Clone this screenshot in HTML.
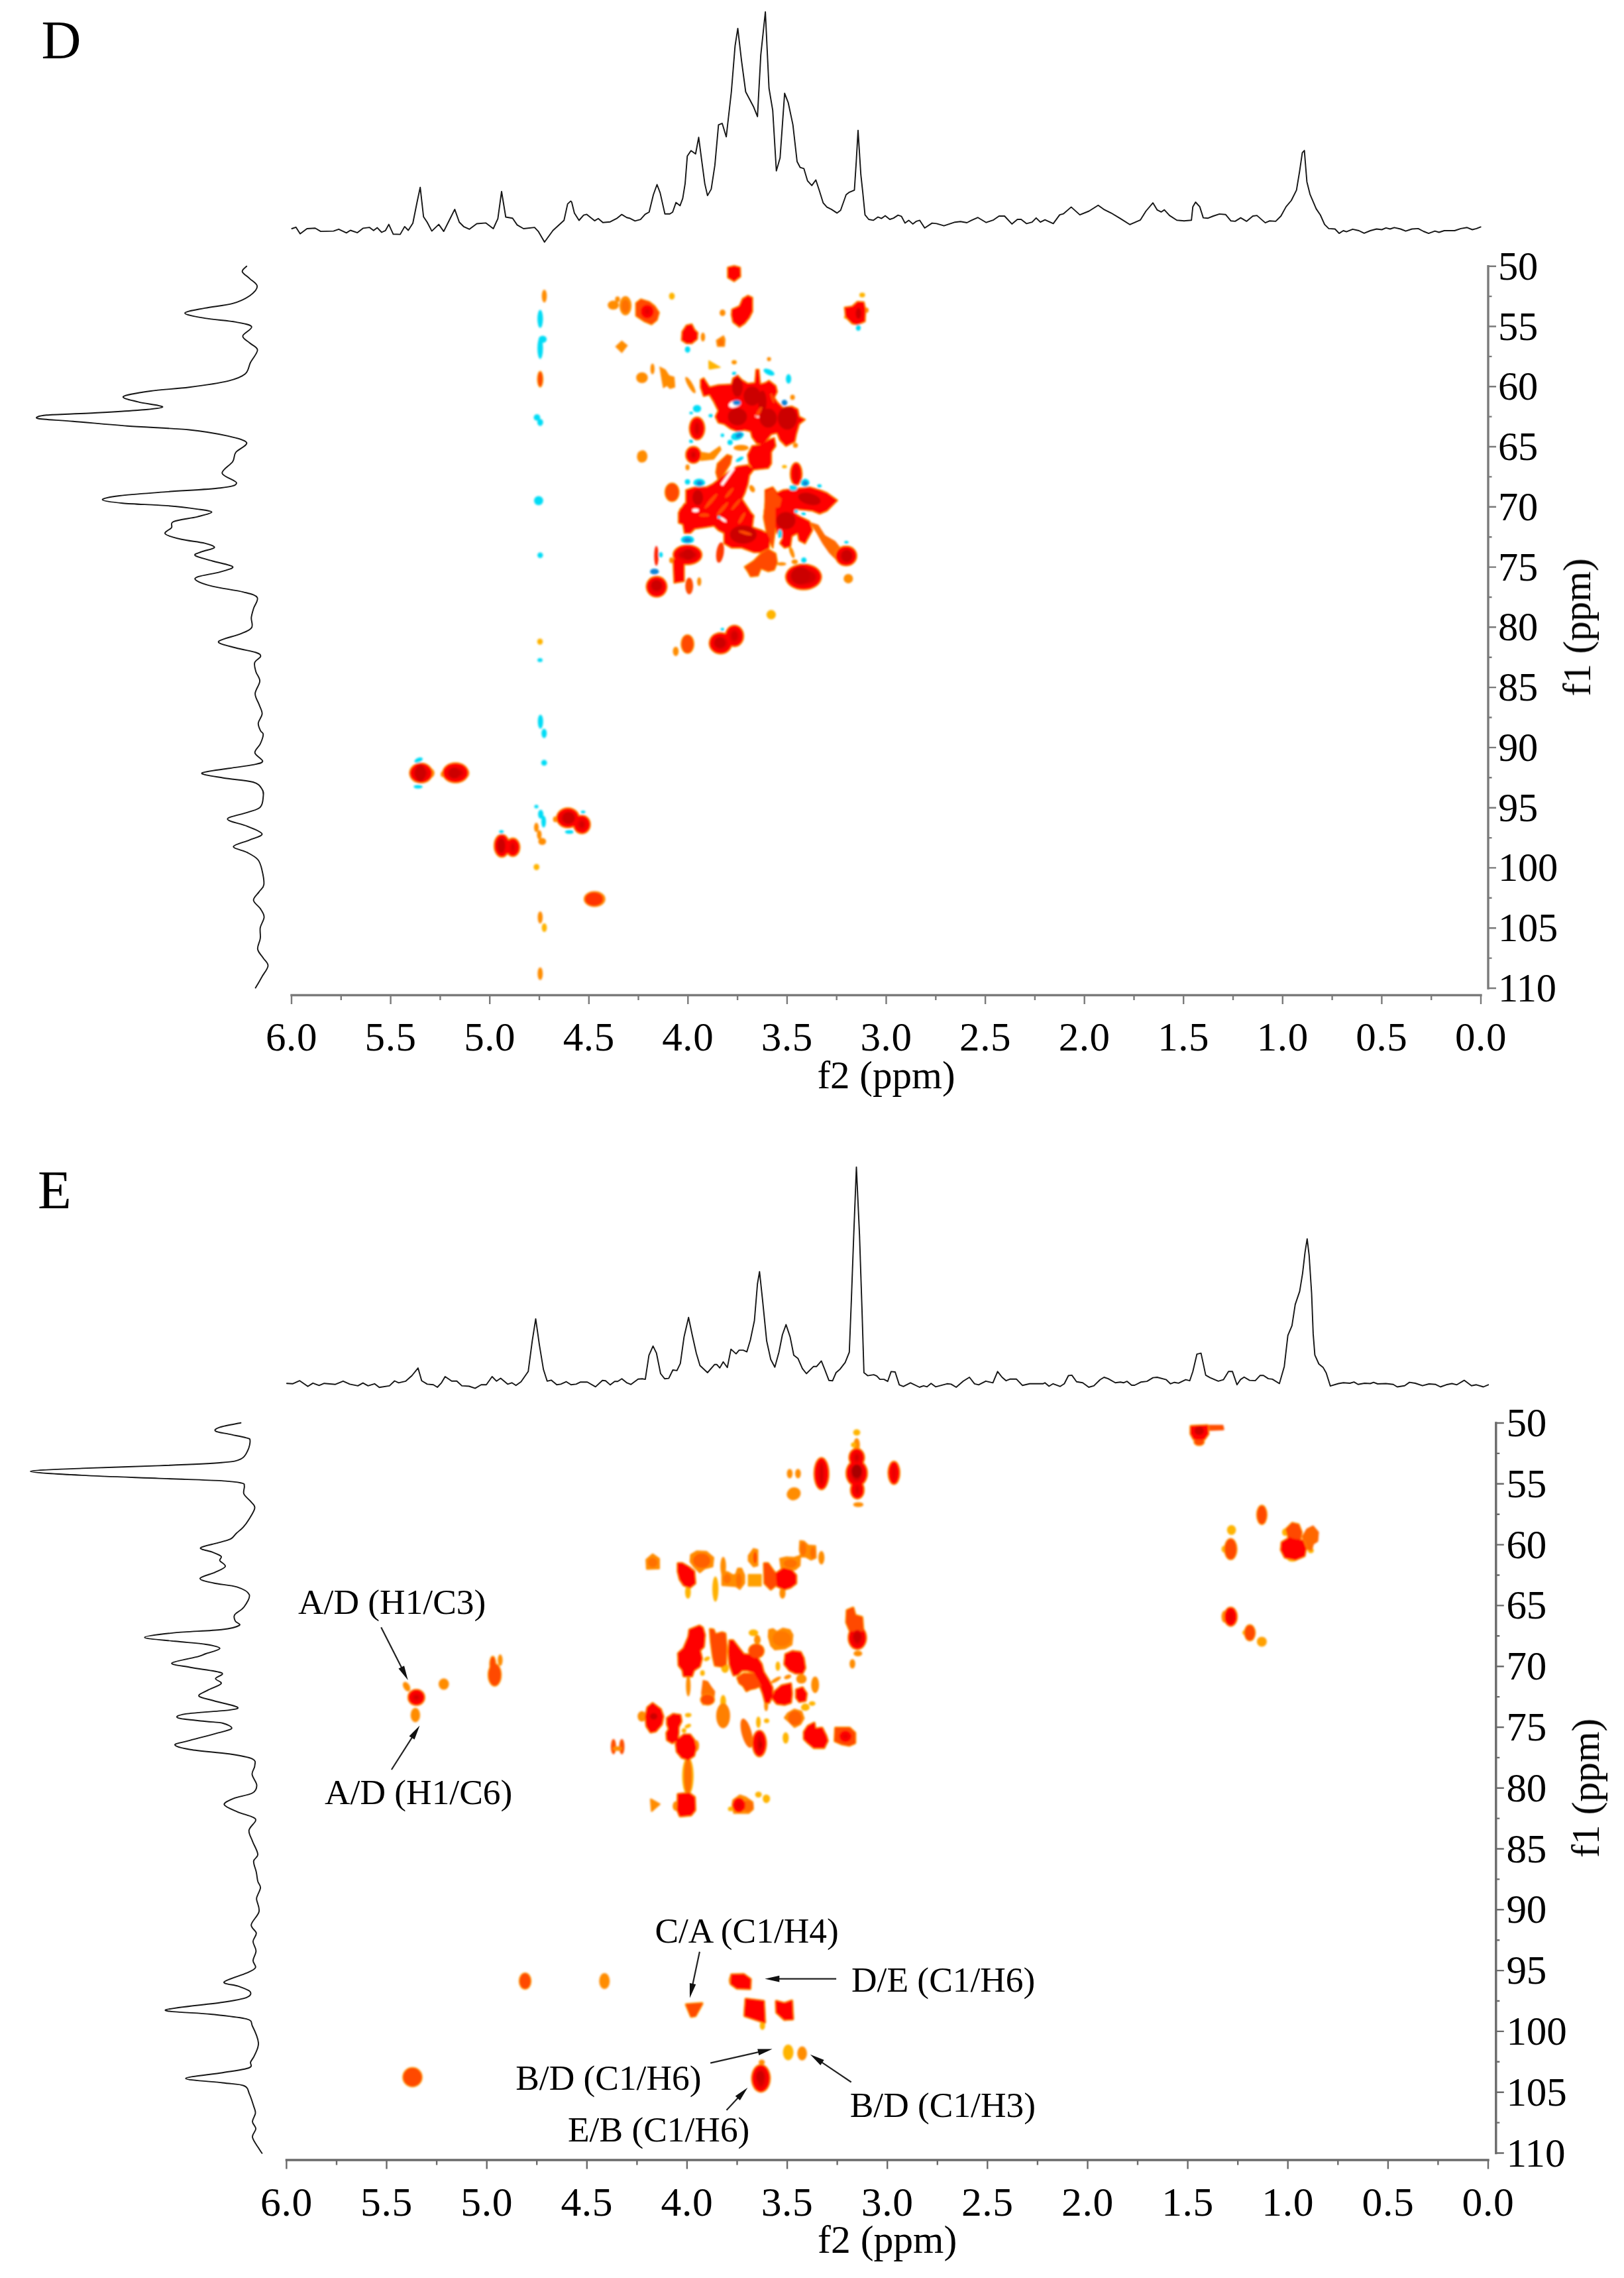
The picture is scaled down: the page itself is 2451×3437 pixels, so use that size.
<!DOCTYPE html>
<html lang="en"><head><meta charset="utf-8"><title>HSQC / HMBC spectra D and E</title>
<style>html,body{margin:0;padding:0;background:#fff}svg{display:block}text{font-family:"Liberation Serif", serif;fill:#000}</style></head><body>
<svg width="2451" height="3437" viewBox="0 0 2451 3437">
<defs><filter id="bl" x="-5%" y="-5%" width="110%" height="110%"><feGaussianBlur stdDeviation="1.6"/></filter><filter id="btr" x="-5%" y="-5%" width="110%" height="110%"><feGaussianBlur stdDeviation="0.65"/></filter><filter id="bth" x="-1%" y="-100%" width="102%" height="300%"><feGaussianBlur stdDeviation="0.7"/></filter><filter id="btv" x="-100%" y="-1%" width="300%" height="102%"><feGaussianBlur stdDeviation="0.7"/></filter></defs>
<rect width="2451" height="3437" fill="#fff"/>
<text x="62.5" y="88.3" font-size="83" text-anchor="start" >D</text>
<text x="57" y="1822.8" font-size="83" text-anchor="start" >E</text>
<g filter="url(#bl)">
<polygon points="1098.5,403.6 1108.1,401.2 1116.9,403.6 1117.4,417.2 1108.1,424.4 1098.5,418.8" fill="#ffa400" stroke="#ffa400" stroke-width="3" stroke-linejoin="round"/>
<polygon points="1104.9,466.8 1116.1,462 1120.9,450.8 1128.9,446 1135.4,449.2 1135.4,470.1 1130.5,479.7 1124.1,487.7 1116.1,493.3 1106.5,486.1 1104.1,474.9" fill="#ffa400" stroke="#ffa400" stroke-width="3" stroke-linejoin="round"/>
<polygon points="1029.7,500.5 1036.1,490.9 1044.1,489.3 1048.1,497.3 1052.9,502.1 1052.1,511.7 1044.1,518.1 1036.1,518.1 1028.9,513.3" fill="#ffa400" stroke="#ffa400" stroke-width="3" stroke-linejoin="round"/>
<ellipse cx="1060.9" cy="508.5" rx="3.3" ry="6.8" fill="#ff8c00"/>
<polygon points="1080.9,513.3 1092.1,506.1 1094.5,511.7 1093.7,522.9 1082.5,522.9" fill="#ff8c00" stroke="#ff8c00" stroke-width="0.8" stroke-linejoin="round"/>
<ellipse cx="1088.1" cy="516.5" rx="4.4" ry="5.2" fill="#ff7000"/>
<ellipse cx="1014" cy="446.8" rx="4.4" ry="5.2" fill="#ffb400"/>
<ellipse cx="1090.5" cy="472" rx="4.4" ry="4.9" fill="#ff8c00"/>
<ellipse cx="925.6" cy="460.4" rx="8.4" ry="6.8" fill="#ff8c00"/>
<ellipse cx="932" cy="451.6" rx="3.6" ry="4.4" fill="#ff8c00"/>
<ellipse cx="944" cy="461.2" rx="9.2" ry="14.5" fill="#ff8c00"/>
<ellipse cx="944" cy="462" rx="6" ry="10" fill="#ff7000"/>
<polygon points="960,457.2 967.2,451.6 980.1,455.6 988.1,462 994.5,471.7 991.3,482.9 983.3,489.3 972,484.5 960,476.5" fill="#ffa400" stroke="#ffa400" stroke-width="3" stroke-linejoin="round"/>
<ellipse cx="976.8" cy="470.1" rx="11.1" ry="11.4" fill="#ffa400"/>
<polygon points="928.8,522.9 938.4,514.1 947.2,521.3 938.4,532.5" fill="#ff8c00" stroke="#ff8c00" stroke-width="0.8" stroke-linejoin="round"/>
<polygon points="1069.7,543.7 1087.3,554.1 1069.7,556.5" fill="#ffb400" stroke="#ffb400" stroke-width="0.8" stroke-linejoin="round"/>
<ellipse cx="1108.1" cy="546.6" rx="3.9" ry="3.3" fill="#ffb400"/>
<ellipse cx="1307.7" cy="468" rx="3.3" ry="3.9" fill="#ff8c00"/>
<ellipse cx="1276.5" cy="478.5" rx="2.8" ry="2.8" fill="#ffb400"/>
<polygon points="1274.9,464 1286.1,462.4 1294.1,455.2 1303.7,456 1306.1,467.2 1305.3,484.9 1294.1,489.7 1286.1,488.1 1276.5,478.5" fill="#ffa400" stroke="#ffa400" stroke-width="3" stroke-linejoin="round"/>
<ellipse cx="1301.3" cy="445.1" rx="4.4" ry="3.6" fill="#ffb400"/>
<ellipse cx="821.5" cy="446.7" rx="3.8" ry="9.7" fill="#ff8c00"/>
<ellipse cx="815.3" cy="572.1" rx="4.9" ry="12.6" fill="#ffa400"/>
<ellipse cx="967.8" cy="688.9" rx="6.5" ry="9" fill="#ff8c00"/>
<ellipse cx="815" cy="968.1" rx="4.3" ry="4.7" fill="#ffb400"/>
<ellipse cx="649.9" cy="1166.4" rx="5.9" ry="7.1" fill="#ff8c00"/>
<ellipse cx="635.4" cy="1166.4" rx="18.1" ry="15.9" fill="#ffa400"/>
<ellipse cx="668.7" cy="1168.2" rx="3.7" ry="4.4" fill="#ff8c00"/>
<ellipse cx="703.1" cy="1166.4" rx="5.3" ry="7.1" fill="#ff8c00"/>
<ellipse cx="687.5" cy="1166" rx="20.3" ry="15.9" fill="#ffa400"/>
<ellipse cx="809.5" cy="1248.4" rx="3.5" ry="7.1" fill="#ff8c00"/>
<ellipse cx="813.9" cy="1259.5" rx="3.5" ry="7.1" fill="#ff8c00"/>
<ellipse cx="818.3" cy="1269.5" rx="5.9" ry="5.3" fill="#ff8c00"/>
<ellipse cx="838.3" cy="1236.2" rx="3.7" ry="4.4" fill="#ff8c00"/>
<ellipse cx="857.1" cy="1234" rx="18.1" ry="15.9" fill="#ffa400"/>
<ellipse cx="878.2" cy="1244" rx="13.7" ry="14.8" fill="#ffa400"/>
<ellipse cx="757.4" cy="1276.1" rx="12.6" ry="18.1" fill="#ffa400"/>
<ellipse cx="774" cy="1278.4" rx="11.5" ry="14.8" fill="#ffa400"/>
<ellipse cx="809.7" cy="1308.2" rx="4.4" ry="4.8" fill="#ffb400"/>
<ellipse cx="897.3" cy="1356.5" rx="16.4" ry="11.9" fill="#ff8c00"/>
<ellipse cx="896.6" cy="1356.5" rx="13.7" ry="10.2" fill="#ff3000"/>
<ellipse cx="815.3" cy="1384.2" rx="3.7" ry="9.3" fill="#ff8c00"/>
<ellipse cx="821.5" cy="1399.7" rx="3.9" ry="6.6" fill="#ffb400"/>
<ellipse cx="815.3" cy="1469.1" rx="3.9" ry="9.7" fill="#ff8c00"/>
<ellipse cx="968.9" cy="569.9" rx="8.8" ry="8.2" fill="#ff8c00"/>
<ellipse cx="984.8" cy="556.6" rx="3.1" ry="8.2" fill="#ff8c00"/>
<polygon points="995.5,553.3 1004.3,557.7 1009.9,566.6 1017.6,568.8 1018.7,584.3 1011,586.6 1006.6,582.1 1001,585.4 998.8,573.3" fill="#ff8c00" stroke="#ff8c00" stroke-width="0.8" stroke-linejoin="round"/>
<ellipse cx="1042" cy="581" rx="3.7" ry="14.1" transform="rotate(-30 1042 581)" fill="#ff8c00"/>
<polygon points="1069.7,545.5 1087.5,554.4 1070.8,557.3" fill="#ffb400" stroke="#ffb400" stroke-width="0.8" stroke-linejoin="round"/>
<ellipse cx="1107.9" cy="546.7" rx="3.5" ry="2.6" fill="#ff8c00"/>
<ellipse cx="1160.6" cy="541.8" rx="3.1" ry="3.1" fill="#ff8c00"/>
<ellipse cx="1196.1" cy="599.4" rx="3.5" ry="3.9" fill="#ff8c00"/>
<ellipse cx="1200.5" cy="671.9" rx="3.7" ry="3.7" fill="#ff8c00"/>
<ellipse cx="970" cy="688.5" rx="7.1" ry="9.3" fill="#ff8c00"/>
<ellipse cx="1183.9" cy="704" rx="3.7" ry="2.6" fill="#ffb400"/>
<ellipse cx="1037.6" cy="705.2" rx="3.1" ry="4.4" fill="#ff8c00"/>
<polygon points="1057.5,681.9 1070.8,684.1 1086.4,673 1088.6,678.6 1077.5,693 1057.5,695.2" fill="#ff8c00" stroke="#ff8c00" stroke-width="0.8" stroke-linejoin="round"/>
<ellipse cx="1118.5" cy="675.7" rx="11.5" ry="4.4" fill="#ff8c00"/>
<ellipse cx="1135.1" cy="737.3" rx="3.7" ry="5.9" transform="rotate(-30 1135.1 737.3)" fill="#ff8c00"/>
<polygon points="1057.5,573.3 1062,570.6 1070.8,584.3 1084.1,581 1104.1,579.9 1106.3,571 1113,566.2 1119.6,573.3 1128.5,578.8 1139.6,577.7 1141.3,557.7 1145.1,557.7 1147.3,579.9 1155.1,577.7 1160.6,574.4 1170.6,582.1 1172.8,591 1168.4,599.9 1172.8,606.5 1181.7,615.4 1195,613.2 1203.8,617.6 1206.1,628.7 1214.9,633.1 1206.1,639.8 1201.6,655.3 1199.4,666.4 1186.1,673 1177.2,664.1 1172.8,653.1 1163.9,655.3 1155.1,666.4 1150.6,670.8 1141.8,668.6 1135.1,659.7 1132.9,650.8 1124,648.6 1113,650.8 1101.9,646.4 1093,639.8 1084.1,637.5 1079.7,628.7 1084.1,619.8 1077.5,606.5 1070.8,595.4 1062,597.6 1057.5,584.3" fill="#ffa400" stroke="#ffa400" stroke-width="3" stroke-linejoin="round"/>
<ellipse cx="1142.2" cy="628" rx="5.7" ry="3.5" transform="rotate(20 1142.2 628)" fill="#ff8c00"/>
<ellipse cx="1166.2" cy="608.7" rx="4.8" ry="4.8" fill="#ff8c00"/>
<polygon points="1083,628.7 1093,639.8 1084.1,638.6" fill="#ff8c00" stroke="#ff8c00" stroke-width="0.8" stroke-linejoin="round"/>
<polygon points="1135.1,673 1150.6,670.8 1159.5,664.1 1168.4,660.8 1170.6,673 1163.9,681.9 1163.9,699.6 1159.5,706.3 1137.3,708.5 1130.7,699.6 1128.5,686.3" fill="#ffa400" stroke="#ffa400" stroke-width="3" stroke-linejoin="round"/>
<polygon points="1113,704 1128.5,701.8 1137.3,708.5 1130.7,717.3 1128.5,730.6 1124,743.9 1119.6,752.8 1128.5,766.1 1137.3,780.1 1024.3,780.1 1026.5,768.3 1035.4,761.7 1035.4,739.5 1048.7,735.1 1066.4,735.1 1075.3,730.6 1084.1,724 1093,717.3 1101.9,710.7" fill="#ffa400" stroke="#ffa400" stroke-width="3" stroke-linejoin="round"/>
<polygon points="1083,699.6 1097.4,686.3 1104.1,688.5 1101.9,699.6 1090.8,717.3 1084.1,724 1080.8,712.9" fill="#ffa400" stroke="#ffa400" stroke-width="3" stroke-linejoin="round"/>
<ellipse cx="1014.3" cy="742.8" rx="11.5" ry="14.8" fill="#ffa400"/>
<ellipse cx="1052" cy="646.4" rx="12.6" ry="18.1" fill="#ffa400"/>
<ellipse cx="1046.5" cy="686.3" rx="12.6" ry="13.7" fill="#ffa400"/>
<ellipse cx="1201.6" cy="715.1" rx="9.9" ry="18.1" fill="#ffa400"/>
<polygon points="1155.1,739.5 1166.2,735.1 1172.8,743.9 1181.7,739.5 1203.8,737.3 1221.6,735.1 1237.1,739.5 1248.2,743.9 1263.7,755 1248.2,770.5 1237.1,775 1226,770.5 1203.8,768.3 1192.8,780.1 1152.9,780.1 1155.1,761.7" fill="#ffa400" stroke="#ffa400" stroke-width="3" stroke-linejoin="round"/>
<polygon points="1156.2,741.7 1166.2,736.2 1172.8,746.2 1179.5,752.8 1172.8,780.1 1154,780.1 1155.1,761.7" fill="#ffa400" stroke="#ffa400" stroke-width="3" stroke-linejoin="round"/>
<polygon points="1155.1,760 1170.6,760 1170.6,793.3 1166.2,826.5 1157.3,804.3 1152.9,782.2" fill="#ffa400" stroke="#ffa400" stroke-width="3" stroke-linejoin="round"/>
<polygon points="1221.6,787.7 1234.9,792.1 1244.9,807.7 1260.4,816.5 1269.2,827.6 1263.7,846.5 1251.5,834.3 1241.5,819.9 1232.7,804.3" fill="#ff6a00" stroke="#ff6a00" stroke-width="0.8" stroke-linejoin="round"/>
<ellipse cx="1280.3" cy="873.1" rx="7.1" ry="7.1" fill="#ff8c00"/>
<ellipse cx="1195" cy="833.2" rx="3.1" ry="9.3" transform="rotate(-20 1195 833.2)" fill="#ff8c00"/>
<ellipse cx="1199.4" cy="847.6" rx="4.8" ry="3.7" fill="#ff8c00"/>
<ellipse cx="1179.5" cy="850.9" rx="7.1" ry="2.6" fill="#ff8c00"/>
<ellipse cx="1013.2" cy="845.3" rx="3.1" ry="4.4" fill="#ff8c00"/>
<ellipse cx="1055.3" cy="877.5" rx="3.1" ry="6.6" fill="#ff8c00"/>
<ellipse cx="1163.9" cy="927.4" rx="7.1" ry="7.1" fill="#ffb400"/>
<ellipse cx="1019.9" cy="982.8" rx="4.4" ry="7.1" fill="#ff8c00"/>
<polygon points="1033.2,760 1024.3,773.3 1024.3,788.8 1030.9,791 1033.2,804.3 1042,804.3 1048.7,797.7 1064.2,795.5 1077.5,793.3 1084.1,799.9 1093,804.3 1093,819.9 1104.1,826.5 1119.6,826.5 1137.3,833.2 1148.4,833.2 1160.6,826.5 1161.7,813.2 1157.3,804.3 1148.4,799.9 1135.1,795.5 1137.3,777.7 1128.5,768.9 1124,760" fill="#ffa400" stroke="#ffa400" stroke-width="3" stroke-linejoin="round"/>
<polygon points="1170.6,766.7 1181.7,764.4 1195,768.9 1203.8,777.7 1221.6,786.6 1226,799.9 1214.9,819.9 1206.1,815.4 1203.8,804.3 1195,808.8 1192.8,824.3 1183.9,826.5 1177.2,819.9 1181.7,811 1172.8,804.3 1170.6,793.3" fill="#ffa400" stroke="#ffa400" stroke-width="3" stroke-linejoin="round"/>
<ellipse cx="1277" cy="838.7" rx="17" ry="15.9" fill="#ffa400"/>
<ellipse cx="1212.7" cy="870.4" rx="28.1" ry="20.3" fill="#ffa400"/>
<polygon points="1124,855.3 1137.3,846.5 1148.4,835.4 1159.5,828.7 1170.6,835.4 1172.8,848.7 1168.4,859.8 1159.5,862 1148.4,857.5 1144,868.6 1132.9,869.7 1128.5,862" fill="#ffa400" stroke="#ffa400" stroke-width="3" stroke-linejoin="round"/>
<ellipse cx="1086.8" cy="833.6" rx="5.7" ry="15.5" transform="rotate(8 1086.8 833.6)" fill="#ff3800"/>
<ellipse cx="1037.6" cy="837.1" rx="22.8" ry="15.9" fill="#ffa400"/>
<polygon points="1016.1,844.2 1032.3,844.2 1032.3,877 1017.6,879.3" fill="#ffa400" stroke="#ffa400" stroke-width="3" stroke-linejoin="round"/>
<ellipse cx="990.6" cy="838.7" rx="3.3" ry="15" fill="#ff2000"/>
<ellipse cx="991" cy="885.2" rx="16.6" ry="16.6" fill="#ffa400"/>
<ellipse cx="1040.2" cy="884.1" rx="5.9" ry="12.6" fill="#ff4800"/>
<ellipse cx="1087.5" cy="970.6" rx="18.1" ry="17" fill="#ffa400"/>
<ellipse cx="1108.5" cy="959.5" rx="14.8" ry="17" fill="#ffa400"/>
<ellipse cx="1037.6" cy="971.7" rx="10.4" ry="14.8" fill="#ffa400"/>
<polygon points="1098.5,403.6 1108.1,401.2 1116.9,403.6 1117.4,417.2 1108.1,424.4 1098.5,418.8" fill="#ff0000" stroke="#ff0000" stroke-width="0.8" stroke-linejoin="round"/>
<polygon points="1104.9,466.8 1116.1,462 1120.9,450.8 1128.9,446 1135.4,449.2 1135.4,470.1 1130.5,479.7 1124.1,487.7 1116.1,493.3 1106.5,486.1 1104.1,474.9" fill="#ff0000" stroke="#ff0000" stroke-width="0.8" stroke-linejoin="round"/>
<polygon points="1029.7,500.5 1036.1,490.9 1044.1,489.3 1048.1,497.3 1052.9,502.1 1052.1,511.7 1044.1,518.1 1036.1,518.1 1028.9,513.3" fill="#ff0000" stroke="#ff0000" stroke-width="0.8" stroke-linejoin="round"/>
<polygon points="960,457.2 967.2,451.6 980.1,455.6 988.1,462 994.5,471.7 991.3,482.9 983.3,489.3 972,484.5 960,476.5" fill="#ff4800" stroke="#ff4800" stroke-width="0.8" stroke-linejoin="round"/>
<ellipse cx="976.8" cy="470.1" rx="10" ry="10.3" fill="#ff0000"/>
<polygon points="1274.9,464 1286.1,462.4 1294.1,455.2 1303.7,456 1306.1,467.2 1305.3,484.9 1294.1,489.7 1286.1,488.1 1276.5,478.5" fill="#ff0000" stroke="#ff0000" stroke-width="0.8" stroke-linejoin="round"/>
<ellipse cx="815.3" cy="572.1" rx="3.8" ry="11.5" fill="#ff4800"/>
<ellipse cx="635.4" cy="1166.4" rx="17" ry="14.8" fill="#ff0000"/>
<ellipse cx="687.5" cy="1166" rx="19.2" ry="14.8" fill="#ff0000"/>
<ellipse cx="857.1" cy="1234" rx="17" ry="14.8" fill="#ff0000"/>
<ellipse cx="878.2" cy="1244" rx="12.6" ry="13.7" fill="#ff0000"/>
<ellipse cx="757.4" cy="1276.1" rx="11.5" ry="17" fill="#ff0000"/>
<ellipse cx="774" cy="1278.4" rx="10.4" ry="13.7" fill="#ff0000"/>
<polygon points="1057.5,573.3 1062,570.6 1070.8,584.3 1084.1,581 1104.1,579.9 1106.3,571 1113,566.2 1119.6,573.3 1128.5,578.8 1139.6,577.7 1141.3,557.7 1145.1,557.7 1147.3,579.9 1155.1,577.7 1160.6,574.4 1170.6,582.1 1172.8,591 1168.4,599.9 1172.8,606.5 1181.7,615.4 1195,613.2 1203.8,617.6 1206.1,628.7 1214.9,633.1 1206.1,639.8 1201.6,655.3 1199.4,666.4 1186.1,673 1177.2,664.1 1172.8,653.1 1163.9,655.3 1155.1,666.4 1150.6,670.8 1141.8,668.6 1135.1,659.7 1132.9,650.8 1124,648.6 1113,650.8 1101.9,646.4 1093,639.8 1084.1,637.5 1079.7,628.7 1084.1,619.8 1077.5,606.5 1070.8,595.4 1062,597.6 1057.5,584.3" fill="#ff0000" stroke="#ff0000" stroke-width="0.8" stroke-linejoin="round"/>
<polygon points="1135.1,673 1150.6,670.8 1159.5,664.1 1168.4,660.8 1170.6,673 1163.9,681.9 1163.9,699.6 1159.5,706.3 1137.3,708.5 1130.7,699.6 1128.5,686.3" fill="#ff0000" stroke="#ff0000" stroke-width="0.8" stroke-linejoin="round"/>
<polygon points="1113,704 1128.5,701.8 1137.3,708.5 1130.7,717.3 1128.5,730.6 1124,743.9 1119.6,752.8 1128.5,766.1 1137.3,780.1 1024.3,780.1 1026.5,768.3 1035.4,761.7 1035.4,739.5 1048.7,735.1 1066.4,735.1 1075.3,730.6 1084.1,724 1093,717.3 1101.9,710.7" fill="#ff0000" stroke="#ff0000" stroke-width="0.8" stroke-linejoin="round"/>
<polygon points="1083,699.6 1097.4,686.3 1104.1,688.5 1101.9,699.6 1090.8,717.3 1084.1,724 1080.8,712.9" fill="#ff4800" stroke="#ff4800" stroke-width="0.8" stroke-linejoin="round"/>
<ellipse cx="1014.3" cy="742.8" rx="10.4" ry="13.7" fill="#ff4800"/>
<ellipse cx="1052" cy="646.4" rx="11.5" ry="17" fill="#ff0000"/>
<ellipse cx="1046.5" cy="686.3" rx="11.5" ry="12.6" fill="#ff0000"/>
<ellipse cx="1201.6" cy="715.1" rx="8.8" ry="17" fill="#ff0000"/>
<polygon points="1155.1,739.5 1166.2,735.1 1172.8,743.9 1181.7,739.5 1203.8,737.3 1221.6,735.1 1237.1,739.5 1248.2,743.9 1263.7,755 1248.2,770.5 1237.1,775 1226,770.5 1203.8,768.3 1192.8,780.1 1152.9,780.1 1155.1,761.7" fill="#ff0000" stroke="#ff0000" stroke-width="0.8" stroke-linejoin="round"/>
<polygon points="1156.2,741.7 1166.2,736.2 1172.8,746.2 1179.5,752.8 1172.8,780.1 1154,780.1 1155.1,761.7" fill="#ff4800" stroke="#ff4800" stroke-width="0.8" stroke-linejoin="round"/>
<polygon points="1155.1,760 1170.6,760 1170.6,793.3 1166.2,826.5 1157.3,804.3 1152.9,782.2" fill="#ff4800" stroke="#ff4800" stroke-width="0.8" stroke-linejoin="round"/>
<polygon points="1033.2,760 1024.3,773.3 1024.3,788.8 1030.9,791 1033.2,804.3 1042,804.3 1048.7,797.7 1064.2,795.5 1077.5,793.3 1084.1,799.9 1093,804.3 1093,819.9 1104.1,826.5 1119.6,826.5 1137.3,833.2 1148.4,833.2 1160.6,826.5 1161.7,813.2 1157.3,804.3 1148.4,799.9 1135.1,795.5 1137.3,777.7 1128.5,768.9 1124,760" fill="#ff0000" stroke="#ff0000" stroke-width="0.8" stroke-linejoin="round"/>
<polygon points="1170.6,766.7 1181.7,764.4 1195,768.9 1203.8,777.7 1221.6,786.6 1226,799.9 1214.9,819.9 1206.1,815.4 1203.8,804.3 1195,808.8 1192.8,824.3 1183.9,826.5 1177.2,819.9 1181.7,811 1172.8,804.3 1170.6,793.3" fill="#ff0000" stroke="#ff0000" stroke-width="0.8" stroke-linejoin="round"/>
<ellipse cx="1277" cy="838.7" rx="15.9" ry="14.8" fill="#ff0000"/>
<ellipse cx="1212.7" cy="870.4" rx="27" ry="19.2" fill="#ff0000"/>
<polygon points="1124,855.3 1137.3,846.5 1148.4,835.4 1159.5,828.7 1170.6,835.4 1172.8,848.7 1168.4,859.8 1159.5,862 1148.4,857.5 1144,868.6 1132.9,869.7 1128.5,862" fill="#ff4800" stroke="#ff4800" stroke-width="0.8" stroke-linejoin="round"/>
<ellipse cx="1037.6" cy="837.1" rx="21.7" ry="14.8" fill="#ff0000"/>
<polygon points="1016.1,844.2 1032.3,844.2 1032.3,877 1017.6,879.3" fill="#ff0000" stroke="#ff0000" stroke-width="0.8" stroke-linejoin="round"/>
<ellipse cx="991" cy="885.2" rx="15.5" ry="15.5" fill="#ff0000"/>
<ellipse cx="1087.5" cy="970.6" rx="17" ry="15.9" fill="#ff0000"/>
<ellipse cx="1108.5" cy="959.5" rx="13.7" ry="15.9" fill="#ff0000"/>
<ellipse cx="1037.6" cy="971.7" rx="9.3" ry="13.7" fill="#ff4800"/>
<ellipse cx="976.8" cy="470.1" rx="4.5" ry="4.8" fill="#ec0000"/>
<ellipse cx="635.4" cy="1166.4" rx="11.5" ry="9.3" fill="#ec0000"/>
<ellipse cx="687.5" cy="1166" rx="13.7" ry="9.3" fill="#ec0000"/>
<ellipse cx="857.1" cy="1234" rx="11.5" ry="9.3" fill="#ec0000"/>
<ellipse cx="878.2" cy="1244" rx="7.1" ry="8.2" fill="#ec0000"/>
<ellipse cx="757.4" cy="1276.1" rx="6" ry="11.5" fill="#ec0000"/>
<ellipse cx="774" cy="1278.4" rx="4.9" ry="8.2" fill="#ec0000"/>
<ellipse cx="1052" cy="646.4" rx="6" ry="11.5" fill="#ec0000"/>
<ellipse cx="1046.5" cy="686.3" rx="6" ry="7.1" fill="#ec0000"/>
<ellipse cx="1201.6" cy="715.1" rx="3.3" ry="11.5" fill="#ec0000"/>
<ellipse cx="1277" cy="838.7" rx="10.4" ry="9.3" fill="#ec0000"/>
<ellipse cx="1212.7" cy="870.4" rx="21.5" ry="13.7" fill="#ec0000"/>
<ellipse cx="1037.6" cy="837.1" rx="16.2" ry="9.3" fill="#ec0000"/>
<ellipse cx="991" cy="885.2" rx="10" ry="10" fill="#ec0000"/>
<ellipse cx="1087.5" cy="970.6" rx="11.5" ry="10.4" fill="#ec0000"/>
<ellipse cx="1108.5" cy="959.5" rx="8.2" ry="10.4" fill="#ec0000"/>
<ellipse cx="976.8" cy="470.1" rx="1" ry="1.3" fill="#d40000"/>
<ellipse cx="635.4" cy="1166.4" rx="8" ry="5.8" fill="#d40000"/>
<ellipse cx="687.5" cy="1166" rx="10.2" ry="5.8" fill="#d40000"/>
<ellipse cx="857.1" cy="1234" rx="8" ry="5.8" fill="#d40000"/>
<ellipse cx="878.2" cy="1244" rx="3.6" ry="4.7" fill="#d40000"/>
<ellipse cx="757.4" cy="1276.1" rx="2.5" ry="8" fill="#d40000"/>
<ellipse cx="774" cy="1278.4" rx="1.4" ry="4.7" fill="#d40000"/>
<ellipse cx="1052" cy="646.4" rx="2.5" ry="8" fill="#d40000"/>
<ellipse cx="1046.5" cy="686.3" rx="2.5" ry="3.6" fill="#d40000"/>
<ellipse cx="1277" cy="838.7" rx="6.9" ry="5.8" fill="#d40000"/>
<ellipse cx="1212.7" cy="870.4" rx="18" ry="10.2" fill="#d40000"/>
<ellipse cx="1037.6" cy="837.1" rx="12.7" ry="5.8" fill="#d40000"/>
<ellipse cx="991" cy="885.2" rx="6.5" ry="6.5" fill="#d40000"/>
<ellipse cx="1087.5" cy="970.6" rx="8" ry="6.9" fill="#d40000"/>
<ellipse cx="1108.5" cy="959.5" rx="4.7" ry="6.9" fill="#d40000"/>
<ellipse cx="1037.7" cy="527.4" rx="4" ry="4.8" fill="#00dcf5"/>
<ellipse cx="1108.1" cy="563.7" rx="3.2" ry="2.4" fill="#00dcf5"/>
<ellipse cx="1295.7" cy="472.8" rx="4.2" ry="8.3" fill="#cc0000"/>
<ellipse cx="1295.4" cy="494.5" rx="3.5" ry="4.5" fill="#00dcf5"/>
<ellipse cx="815.3" cy="481.1" rx="4.2" ry="13.5" fill="#00dcf5"/>
<ellipse cx="815.3" cy="525.4" rx="4.2" ry="16" fill="#00dcf5"/>
<ellipse cx="819" cy="511.9" rx="6.1" ry="5.4" fill="#00dcf5"/>
<ellipse cx="810.4" cy="629.9" rx="4.9" ry="4.9" fill="#00dcf5"/>
<ellipse cx="815.3" cy="637.3" rx="4.4" ry="5.4" fill="#00dcf5"/>
<ellipse cx="812.9" cy="755.3" rx="6.9" ry="6.9" fill="#00dcf5"/>
<ellipse cx="815.3" cy="837.7" rx="4.2" ry="4.2" fill="#00dcf5"/>
<ellipse cx="815" cy="995.9" rx="3.9" ry="2.9" fill="#00dcf5"/>
<ellipse cx="815.7" cy="1088.8" rx="4" ry="10.6" fill="#00dcf5"/>
<ellipse cx="821.2" cy="1106.6" rx="4" ry="7.1" fill="#00dcf5"/>
<ellipse cx="821.2" cy="1150.9" rx="4.4" ry="4.4" fill="#00dcf5"/>
<ellipse cx="634.3" cy="1166.4" rx="8.1" ry="12.1" fill="#cc0000"/>
<ellipse cx="631.7" cy="1146.9" rx="6.7" ry="3.5" transform="rotate(-25 631.7 1146.9)" fill="#00dcf5"/>
<ellipse cx="631" cy="1187" rx="6.7" ry="2.7" fill="#00dcf5"/>
<ellipse cx="685.3" cy="1166.4" rx="8.1" ry="8.1" fill="#cc0000"/>
<ellipse cx="809.5" cy="1216.9" rx="3.1" ry="2.7" fill="#00dcf5"/>
<ellipse cx="816.1" cy="1228.5" rx="4" ry="6.7" fill="#00dcf5"/>
<ellipse cx="820.5" cy="1239.6" rx="3.5" ry="8.9" fill="#00dcf5"/>
<ellipse cx="858.2" cy="1234" rx="9.2" ry="9.2" fill="#cc0000"/>
<ellipse cx="880" cy="1225.2" rx="3.3" ry="2.2" fill="#00dcf5"/>
<ellipse cx="859.3" cy="1255.1" rx="6.7" ry="2.9" fill="#00dcf5"/>
<ellipse cx="756.3" cy="1276.1" rx="5.8" ry="11" fill="#cc0000"/>
<ellipse cx="756.7" cy="1255.1" rx="3.5" ry="2.7" fill="#00dcf5"/>
<ellipse cx="1113" cy="584.3" rx="8.1" ry="14.4" fill="#cc0000"/>
<ellipse cx="1135.1" cy="597.6" rx="13" ry="14.4" fill="#cc0000"/>
<ellipse cx="1150.6" cy="606.5" rx="6.3" ry="17.3" fill="#cc0000"/>
<ellipse cx="1113" cy="628.7" rx="14.4" ry="13" fill="#cc0000"/>
<ellipse cx="1159.5" cy="630.9" rx="13" ry="14.4" fill="#cc0000"/>
<ellipse cx="1188.3" cy="630.9" rx="14.4" ry="17.3" fill="#cc0000"/>
<ellipse cx="1109" cy="609.6" rx="9.3" ry="4.9" transform="rotate(-15 1109 609.6)" fill="#ffffff"/>
<ellipse cx="1111.9" cy="607.6" rx="6.2" ry="4" fill="#0a86d8"/>
<ellipse cx="1142.7" cy="628.2" rx="3.1" ry="1.6" transform="rotate(20 1142.7 628.2)" fill="#ffffff"/>
<ellipse cx="1183.9" cy="607.6" rx="4.4" ry="4.4" fill="#0a86d8"/>
<polygon points="1105.2,705.2 1109,707.4 1090.8,732.9 1087.5,730.6" fill="#ffffff"/>
<ellipse cx="1053.1" cy="750.6" rx="8.1" ry="11.5" fill="#cc0000"/>
<ellipse cx="1221.6" cy="752.8" rx="17.3" ry="8.6" transform="rotate(15 1221.6 752.8)" fill="#cc0000"/>
<ellipse cx="1108.1" cy="563.3" rx="3.1" ry="2.4" fill="#00dcf5"/>
<ellipse cx="1160.6" cy="561.5" rx="8.9" ry="4" transform="rotate(25 1160.6 561.5)" fill="#00dcf5"/>
<ellipse cx="1190.1" cy="571.7" rx="4" ry="7.1" fill="#00dcf5"/>
<ellipse cx="1052" cy="616.5" rx="6.2" ry="5.5" fill="#00dcf5"/>
<ellipse cx="1043.1" cy="623.1" rx="2.7" ry="2.2" fill="#00dcf5"/>
<ellipse cx="1072.6" cy="627.1" rx="3.3" ry="2.7" fill="#00dcf5"/>
<ellipse cx="1043.1" cy="665.7" rx="3.1" ry="2.7" fill="#00dcf5"/>
<ellipse cx="1090.3" cy="656.8" rx="2.7" ry="2.7" fill="#00dcf5"/>
<ellipse cx="1113" cy="657.5" rx="10" ry="6.2" transform="rotate(-20 1113 657.5)" fill="#00dcf5"/>
<ellipse cx="1115.2" cy="657" rx="5.5" ry="3.3" transform="rotate(-20 1115.2 657)" fill="#0a86d8"/>
<ellipse cx="1101.9" cy="667.5" rx="4" ry="4" fill="#00dcf5"/>
<ellipse cx="1116.3" cy="693" rx="6.7" ry="2.7" transform="rotate(-30 1116.3 693)" fill="#00dcf5"/>
<ellipse cx="1037.6" cy="726.9" rx="4" ry="4" fill="#00dcf5"/>
<ellipse cx="1055.3" cy="728.4" rx="8.9" ry="6.2" fill="#00dcf5"/>
<ellipse cx="1055.8" cy="728.9" rx="4.9" ry="3.5" fill="#0a86d8"/>
<ellipse cx="1197.2" cy="736.2" rx="6.2" ry="4.4" fill="#00dcf5"/>
<ellipse cx="1214.9" cy="728.4" rx="6.7" ry="6.2" fill="#00dcf5"/>
<ellipse cx="1215.4" cy="728.9" rx="4" ry="3.5" fill="#0a86d8"/>
<ellipse cx="1236.7" cy="733.3" rx="3.3" ry="2.7" fill="#00dcf5"/>
<ellipse cx="1201.6" cy="771.7" rx="2.7" ry="2.2" fill="#00dcf5"/>
<ellipse cx="1212.7" cy="775" rx="3.1" ry="2.2" fill="#00dcf5"/>
<ellipse cx="1049.8" cy="770" rx="4.9" ry="2.7" fill="#ffffff"/>
<ellipse cx="1091.2" cy="783.9" rx="6.2" ry="2" transform="rotate(35 1091.2 783.9)" fill="#ffffff"/>
<ellipse cx="1121.8" cy="806.6" rx="20.2" ry="13.8" fill="#cc0000"/>
<ellipse cx="1186.1" cy="785.5" rx="14.4" ry="13" fill="#cc0000"/>
<ellipse cx="1278.1" cy="838.7" rx="8.1" ry="9.5" fill="#cc0000"/>
<ellipse cx="1208.3" cy="868.6" rx="14.4" ry="13" fill="#cc0000"/>
<ellipse cx="1038.7" cy="836.5" rx="8.1" ry="8.1" fill="#cc0000"/>
<ellipse cx="991" cy="883" rx="8.1" ry="8.1" fill="#cc0000"/>
<ellipse cx="1086.4" cy="969.5" rx="8.1" ry="8.1" fill="#cc0000"/>
<ellipse cx="1085.2" cy="780.4" rx="2.2" ry="2.2" fill="#00dcf5"/>
<ellipse cx="1201.6" cy="771.1" rx="2.7" ry="2.2" fill="#00dcf5"/>
<ellipse cx="1212.7" cy="775.5" rx="3.3" ry="2.2" fill="#00dcf5"/>
<ellipse cx="1177.2" cy="805.4" rx="3.3" ry="6.7" fill="#00dcf5"/>
<ellipse cx="1277.4" cy="818.3" rx="3.1" ry="2.2" fill="#00dcf5"/>
<ellipse cx="1213.2" cy="845.3" rx="4" ry="4.4" fill="#00dcf5"/>
<ellipse cx="1037.6" cy="814.3" rx="10" ry="6.2" fill="#00dcf5"/>
<ellipse cx="1037.6" cy="814.8" rx="6.2" ry="3.5" fill="#0a86d8"/>
<ellipse cx="997.2" cy="836.9" rx="3.1" ry="4" fill="#00dcf5"/>
<ellipse cx="987.7" cy="862.4" rx="6.7" ry="4.4" fill="#0a86d8"/>
<ellipse cx="1090.3" cy="949.5" rx="2.7" ry="2.2" fill="#00dcf5"/>
<ellipse cx="1073.1" cy="755.9" rx="2.4" ry="14.5" transform="rotate(40 1073.1 755.9)" fill="#ff4a00"/>
<ellipse cx="1090.3" cy="767.9" rx="2.4" ry="13.1" transform="rotate(40 1090.3 767.9)" fill="#ff4a00"/>
<ellipse cx="1111" cy="761" rx="2.1" ry="11" transform="rotate(40 1111 761)" fill="#ff4a00"/>
<ellipse cx="1062.8" cy="777.2" rx="7.6" ry="2.4" fill="#ff4a00"/>
<ellipse cx="1100.7" cy="743.8" rx="2.1" ry="9.7" transform="rotate(40 1100.7 743.8)" fill="#ff4a00"/>
<ellipse cx="1119.7" cy="781.7" rx="2.4" ry="9.7" transform="rotate(30 1119.7 781.7)" fill="#ff4a00"/>
<ellipse cx="1124.8" cy="804.1" rx="10.3" ry="2.4" transform="rotate(15 1124.8 804.1)" fill="#ff4a00"/>
<ellipse cx="1145.5" cy="621.4" rx="2.4" ry="8.6" transform="rotate(30 1145.5 621.4)" fill="#ff4a00"/>
<ellipse cx="1166.2" cy="600.7" rx="2.1" ry="7.6" transform="rotate(-20 1166.2 600.7)" fill="#ff4a00"/>
<ellipse cx="1293" cy="2161.3" rx="5.4" ry="4.8" fill="#ffb400"/>
<ellipse cx="1293" cy="2179.9" rx="4.8" ry="10.2" fill="#ff8c00"/>
<ellipse cx="1288" cy="2179.9" rx="3.7" ry="3.7" fill="#ffb400"/>
<ellipse cx="1293" cy="2199.1" rx="12.7" ry="14.8" fill="#ffa400"/>
<ellipse cx="1293" cy="2222.8" rx="17.2" ry="20.7" fill="#ffa400"/>
<ellipse cx="1293.9" cy="2247.9" rx="11.3" ry="14.8" fill="#ffa400"/>
<ellipse cx="1295.4" cy="2270.1" rx="7.8" ry="3.7" fill="#ff8c00"/>
<ellipse cx="1239.8" cy="2223.4" rx="12.2" ry="25.2" fill="#ffa400"/>
<ellipse cx="1349.2" cy="2222.2" rx="9.8" ry="18.4" fill="#ffa400"/>
<ellipse cx="1191.9" cy="2223.4" rx="4.3" ry="7.2" fill="#ff8c00"/>
<ellipse cx="1204.4" cy="2223.4" rx="4.3" ry="7.2" fill="#ff8c00"/>
<ellipse cx="1197.9" cy="2253.8" rx="10.8" ry="9.6" transform="rotate(-25 1197.9 2253.8)" fill="#ff8c00"/>
<ellipse cx="1293.9" cy="2471" rx="14.8" ry="18.7" fill="#ffa400"/>
<ellipse cx="1294.8" cy="2494.7" rx="6.6" ry="4.3" fill="#ff8c00"/>
<ellipse cx="1286.5" cy="2510.4" rx="4.3" ry="7.2" fill="#ff8c00"/>
<polygon points="985.1,2345.1 994.7,2351.7 994.7,2366.5 976.3,2367.2 975.5,2353.2" fill="#ff8c00" stroke="#ff8c00" stroke-width="2.6" stroke-linejoin="round"/>
<ellipse cx="985.1" cy="2357.6" rx="7.2" ry="7.2" fill="#ff7000"/>
<polygon points="1042.8,2345.8 1051.6,2340.6 1066.4,2341.4 1076.7,2350.2 1075.3,2363.5 1063.4,2366.5 1056.1,2372.4 1047.2,2363.5 1042,2356.2" fill="#ff8c00" stroke="#ff8c00" stroke-width="2.6" stroke-linejoin="round"/>
<ellipse cx="1059" cy="2354.7" rx="13.1" ry="10.9" fill="#ff6000"/>
<ellipse cx="1038.3" cy="2402" rx="4.3" ry="10.2" fill="#ffb400"/>
<polygon points="1023.5,2359.1 1029.5,2359.1 1039.8,2365 1047.2,2370.9 1048.7,2388.7 1041.3,2394.6 1032.4,2391.6 1026.5,2382.8 1023.5,2370.9" fill="#ffa400" stroke="#ffa400" stroke-width="4.8" stroke-linejoin="round"/>
<ellipse cx="1091.5" cy="2363.5" rx="4.3" ry="14.6" fill="#ff8c00"/>
<ellipse cx="1079.7" cy="2397.5" rx="4.6" ry="19" fill="#ffb000"/>
<polygon points="1090,2370.9 1098.9,2372.4 1106.3,2376.8 1110.7,2375.4 1113.7,2366.5 1118.9,2366.5 1123.3,2376.8 1123.3,2388.7 1116.6,2397.5 1110.7,2393.1 1090,2391.6" fill="#ff8c00" stroke="#ff8c00" stroke-width="2.6" stroke-linejoin="round"/>
<ellipse cx="1097.4" cy="2382" rx="5.7" ry="7.2" fill="#ff7000"/>
<ellipse cx="1115.2" cy="2384.2" rx="4.3" ry="10.2" fill="#ff7000"/>
<polygon points="1137.3,2336.9 1143.2,2338.4 1143.2,2362.1 1137.3,2363.5 1129.9,2354.7 1129.9,2347.3" fill="#ff8c00" stroke="#ff8c00" stroke-width="2.6" stroke-linejoin="round"/>
<ellipse cx="1139.5" cy="2350.2" rx="4.3" ry="10.5" fill="#ffa400"/>
<polygon points="1129.9,2376.1 1148.4,2376.1 1148.4,2392.4 1129.9,2392.4" fill="#ffa000" stroke="#ffa000" stroke-width="2.6" stroke-linejoin="round"/>
<polygon points="1177.3,2351.7 1186.9,2349.5 1198.8,2350.2 1207.6,2347.3 1206.9,2362.1 1200.2,2368 1179.6,2368" fill="#ff8c00" stroke="#ff8c00" stroke-width="2.6" stroke-linejoin="round"/>
<ellipse cx="1192.9" cy="2359.1" rx="10.2" ry="6.5" fill="#ff7000"/>
<polygon points="1207.6,2325.1 1213.5,2325.9 1219.5,2331.8 1230.5,2332.5 1231.3,2350.2 1223.9,2353.2 1216.5,2348.8 1209.1,2348.8 1206.9,2338.4" fill="#ff8c00" stroke="#ff8c00" stroke-width="2.6" stroke-linejoin="round"/>
<ellipse cx="1212.1" cy="2336.9" rx="4.6" ry="10.2" fill="#ff7000"/>
<ellipse cx="1226.8" cy="2342.9" rx="4" ry="8.7" fill="#ff7000"/>
<ellipse cx="1239.7" cy="2350.2" rx="4.6" ry="10.2" fill="#ff8c00"/>
<ellipse cx="1181" cy="2403.4" rx="4.6" ry="8.7" fill="#ff8c00"/>
<polygon points="1153.7,2359.1 1158.9,2359.1 1166.3,2369.5 1172.2,2376.8 1170.7,2391.6 1163.3,2397.5 1154.4,2388.7" fill="#ffa400" stroke="#ffa400" stroke-width="4.8" stroke-linejoin="round"/>
<polygon points="1172.2,2373.9 1182.5,2366.5 1194.3,2369.5 1201,2376.8 1201,2388.7 1192.9,2394.6 1184,2397.5 1173.6,2393.1" fill="#ffa400" stroke="#ffa400" stroke-width="4.8" stroke-linejoin="round"/>
<polygon points="1278.6,2430 1287.4,2426.3 1290.4,2437.4 1300.7,2440.4 1302.2,2460 1283,2460 1277.8,2447.8" fill="#ffa400" stroke="#ffa400" stroke-width="4.8" stroke-linejoin="round"/>
<ellipse cx="1294.1" cy="2451.5" rx="4.6" ry="4" fill="#ffb400"/>
<ellipse cx="1038.8" cy="2543.4" rx="3.5" ry="16.1" fill="#ff8c00"/>
<ellipse cx="1066.9" cy="2502.8" rx="5" ry="3.1" transform="rotate(-30 1066.9 2502.8)" fill="#ffb400"/>
<ellipse cx="1060.2" cy="2524.2" rx="3.5" ry="4.3" fill="#ffb400"/>
<polygon points="1055.8,2453.3 1060.2,2456.3 1063.2,2466.6 1061.7,2484.3 1055.8,2490.2 1058.8,2502.1 1055.8,2513.9 1046.9,2519.8 1044,2528.7 1032.2,2528.7 1030.7,2519.8 1024.8,2512.4 1024,2494.7 1032.2,2487.3 1039.6,2469.6 1041,2459.2" fill="#ffa400" stroke="#ffa400" stroke-width="4.8" stroke-linejoin="round"/>
<polygon points="1072.1,2458.5 1076.5,2459.2 1079.5,2466.6 1089.8,2463.6 1094.2,2465.1 1095.7,2484.3 1095,2510.9 1089.8,2513.9 1079.5,2512.4 1076.5,2499.1 1073.5,2476.9" fill="#ffa400" stroke="#ffa400" stroke-width="4.8" stroke-linejoin="round"/>
<ellipse cx="1094.2" cy="2516.8" rx="5.7" ry="7.2" fill="#ffb400"/>
<polygon points="1061.7,2536.1 1067.6,2537.5 1073.5,2546.4 1078,2552.3 1076.5,2565.6 1069.1,2570 1061,2571.5 1059.5,2553.8" fill="#ff7000" stroke="#ff7000" stroke-width="2.6" stroke-linejoin="round"/>
<ellipse cx="1137.1" cy="2463.6" rx="7.2" ry="5" fill="#ffb400"/>
<ellipse cx="1143" cy="2474" rx="5" ry="7.2" fill="#ff8c00"/>
<ellipse cx="1156.3" cy="2573" rx="3.1" ry="8.7" fill="#ff8c00"/>
<polygon points="1101.6,2475.5 1106.1,2475.5 1116.4,2488.8 1122.3,2496.2 1135.6,2497.6 1143,2502.1 1148.9,2510.9 1151.9,2522.8 1159.3,2534.6 1165.2,2546.4 1165.2,2558.2 1160.7,2568.6 1155.6,2568.6 1151.9,2555.3 1147.4,2543.4 1143,2531.6 1138.6,2522.8 1128.2,2519.8 1119.4,2519.8 1113.4,2525.7 1107.5,2527.2 1104.6,2519.8 1101.6,2510.9 1100.1,2491.7" fill="#ffa400" stroke="#ffa400" stroke-width="4.8" stroke-linejoin="round"/>
<polygon points="1113.4,2531.6 1122.3,2525.7 1137.1,2525.7 1143,2534.6 1147.4,2543.4 1140,2546.4 1132.7,2547.9 1126.7,2550.8 1122.3,2543.4 1116.4,2539" fill="#ffa400" stroke="#ffa400" stroke-width="4.8" stroke-linejoin="round"/>
<ellipse cx="1141.5" cy="2491" rx="12.7" ry="11.6" fill="#ffa400"/>
<polygon points="1160.7,2459.2 1166.6,2457.7 1172.6,2462.2 1181.4,2457 1191.8,2459.2 1196.2,2466.6 1194.7,2481.4 1184.4,2487.3 1169.6,2488.8 1163.7,2482.9 1160,2469.6" fill="#ff8c00" stroke="#ff8c00" stroke-width="2.6" stroke-linejoin="round"/>
<ellipse cx="1179.9" cy="2472.5" rx="13.9" ry="11.6" fill="#ff7800"/>
<polygon points="1185.9,2496.2 1196.2,2491.7 1208,2493.2 1212.5,2502.1 1214.7,2516.8 1211,2524.2 1200.6,2524.2 1191.8,2519.8 1184.4,2510.9" fill="#ffa400" stroke="#ffa400" stroke-width="4.8" stroke-linejoin="round"/>
<ellipse cx="1174" cy="2513.9" rx="3.5" ry="7.2" fill="#ffb400"/>
<ellipse cx="1209.5" cy="2533.1" rx="7.9" ry="7.2" fill="#ff8c00"/>
<ellipse cx="1215.4" cy="2574.5" rx="5.7" ry="4.3" fill="#ffb400"/>
<ellipse cx="1171.1" cy="2534.6" rx="8.7" ry="2.8" transform="rotate(-30 1171.1 2534.6)" fill="#ff8c00"/>
<ellipse cx="1188.8" cy="2530.1" rx="5.7" ry="3.1" transform="rotate(-20 1188.8 2530.1)" fill="#ff8c00"/>
<polygon points="1169.6,2552.3 1179.9,2543.4 1193.2,2540.5 1194.7,2555.3 1193.2,2568.6 1184.4,2571.5 1172.6,2570 1166.6,2562.7" fill="#ffa400" stroke="#ffa400" stroke-width="4.8" stroke-linejoin="round"/>
<polygon points="1202.1,2549.4 1211,2546.4 1216.9,2555.3 1215.4,2565.6 1206.5,2567.1 1202.1,2561.2" fill="#ffa400" stroke="#ffa400" stroke-width="4.8" stroke-linejoin="round"/>
<ellipse cx="1230.2" cy="2542" rx="6" ry="12.4" fill="#ff8c00"/>
<ellipse cx="1085.4" cy="2488.8" rx="3.5" ry="7.9" fill="#ffb400"/>
<ellipse cx="1038.1" cy="2587.8" rx="4.3" ry="3.1" fill="#ffb400"/>
<ellipse cx="968.8" cy="2589.6" rx="6.5" ry="7.9" fill="#ff8c00"/>
<polygon points="985,2570.3 996.8,2579.2 1000.5,2589.6 998.3,2601.4 989.5,2611.7 982.1,2613.2 976.2,2604.3 974.7,2589.6 977.6,2576.3" fill="#ffa400" stroke="#ffa400" stroke-width="4.8" stroke-linejoin="round"/>
<polygon points="1007.2,2592.5 1016.1,2586.6 1026.4,2588.1 1027.9,2596.9 1023.4,2605.8 1023.4,2614.7 1022,2625 1014.6,2629.5 1007.2,2625 1006.4,2614.7 1010.1,2608.8 1007.2,2601.4" fill="#ffa400" stroke="#ffa400" stroke-width="4.8" stroke-linejoin="round"/>
<ellipse cx="1050.8" cy="2633.9" rx="4.3" ry="8.7" fill="#ff8c00"/>
<polygon points="1023.4,2625 1032.3,2617.6 1041.2,2617.6 1047.1,2625 1050,2636.8 1047.1,2648.7 1038.2,2654.6 1029.4,2651.6 1022,2642.8 1020.5,2630.9" fill="#ffa400" stroke="#ffa400" stroke-width="4.8" stroke-linejoin="round"/>
<ellipse cx="1039" cy="2587.6" rx="4.6" ry="3.1" fill="#ffb400"/>
<ellipse cx="1038.2" cy="2604.3" rx="5" ry="2.8" transform="rotate(-25 1038.2 2604.3)" fill="#ffb400"/>
<ellipse cx="1032.3" cy="2611" rx="3.5" ry="3.5" fill="#ffb400"/>
<ellipse cx="1038.2" cy="2679.7" rx="8.7" ry="28.6" fill="#ffb400"/>
<ellipse cx="1038.2" cy="2679.7" rx="6" ry="27.9" fill="#ff7000"/>
<ellipse cx="925.9" cy="2635.4" rx="4" ry="11.6" fill="#ff5000"/>
<ellipse cx="938.5" cy="2635.4" rx="4" ry="11.6" fill="#ff5000"/>
<ellipse cx="931.8" cy="2638.3" rx="7.2" ry="3.5" fill="#ff8c00"/>
<ellipse cx="1067.8" cy="2564.4" rx="11.3" ry="9" fill="#ffa400"/>
<ellipse cx="1091.4" cy="2567.4" rx="4.3" ry="10.2" fill="#ffb400"/>
<ellipse cx="1091.4" cy="2588.8" rx="10.5" ry="18.7" fill="#ff8000"/>
<ellipse cx="1126.9" cy="2615" rx="7.5" ry="22.7" transform="rotate(-15 1126.9 2615)" fill="#ff6a00"/>
<ellipse cx="1144.6" cy="2598.4" rx="3.5" ry="8.7" fill="#ffb400"/>
<ellipse cx="1146.1" cy="2630.6" rx="11.6" ry="20.9" fill="#ffa400"/>
<ellipse cx="1144.6" cy="2707.8" rx="4.3" ry="4" fill="#ffb400"/>
<ellipse cx="1157.9" cy="2713.7" rx="4.3" ry="5" fill="#ffb400"/>
<polygon points="1188.8,2585.1 1199.1,2579.2 1209.5,2582.2 1213.1,2592.5 1208,2601.4 1199.1,2605.8 1191.7,2598.4 1184.3,2591.8" fill="#ff8c00" stroke="#ff8c00" stroke-width="2.6" stroke-linejoin="round"/>
<ellipse cx="1199.8" cy="2592.2" rx="10.5" ry="10.9" fill="#ff6000"/>
<polygon points="1219.8,2604.3 1228.7,2599.9 1230.1,2608.8 1240.5,2607.3 1246.4,2619.1 1248.6,2626.5 1243.4,2636.8 1228.7,2636.8 1219.8,2629.5 1213.9,2623.5 1213.9,2613.2" fill="#ffa400" stroke="#ffa400" stroke-width="4.8" stroke-linejoin="round"/>
<polygon points="1261.2,2607.3 1281.9,2607.3 1290,2614.7 1290,2629.5 1281.9,2633.1 1270,2630.9 1260.4,2626.5" fill="#ffa400" stroke="#ffa400" stroke-width="4.8" stroke-linejoin="round"/>
<ellipse cx="1276" cy="2619.8" rx="10.5" ry="9.8" fill="#ffa400"/>
<ellipse cx="1185.8" cy="2622.1" rx="4.6" ry="8.7" fill="#ffb400"/>
<ellipse cx="1157" cy="2596.2" rx="4" ry="3.5" fill="#ffb400"/>
<ellipse cx="1215.4" cy="2576.3" rx="6.5" ry="5" fill="#ffb400"/>
<ellipse cx="1225.7" cy="2570.3" rx="5" ry="3.5" fill="#ffb400"/>
<ellipse cx="1019.8" cy="2725" rx="4.6" ry="7.2" fill="#ff8c00"/>
<polygon points="1023.5,2707.3 1039.8,2705.8 1047.9,2711.7 1048.7,2730.9 1042.8,2738.3 1026.5,2739.8 1022.8,2730.9" fill="#ffa400" stroke="#ffa400" stroke-width="4.8" stroke-linejoin="round"/>
<polygon points="982.2,2714.7 995.5,2722.1 983.6,2732.4" fill="#ff8c00" stroke="#ff8c00" stroke-width="2.6" stroke-linejoin="round"/>
<polygon points="1106.3,2716.2 1116.6,2708.8 1125.5,2711.7 1135.9,2719.1 1136.6,2729.5 1129.9,2735.4 1107.8,2735.4 1105.6,2726.5" fill="#ff8c00" stroke="#ff8c00" stroke-width="2.6" stroke-linejoin="round"/>
<ellipse cx="1115.2" cy="2723.5" rx="11" ry="12.4" fill="#ffa400"/>
<ellipse cx="1128.5" cy="2725" rx="8.7" ry="8.4" fill="#ff6a00"/>
<ellipse cx="1102.6" cy="2729.2" rx="4" ry="3.5" fill="#ffb400"/>
<ellipse cx="1144.7" cy="2707.6" rx="5" ry="4.3" fill="#ffb400"/>
<ellipse cx="1156.5" cy="2713.9" rx="5.4" ry="6.5" fill="#ffb400"/>
<ellipse cx="613.6" cy="2544.7" rx="4.8" ry="7.8" transform="rotate(-30 613.6 2544.7)" fill="#ff8c00"/>
<ellipse cx="628.4" cy="2561" rx="13.6" ry="13" fill="#ffa400"/>
<ellipse cx="626.9" cy="2587.6" rx="7.2" ry="10.8" fill="#ff8c00"/>
<ellipse cx="669.8" cy="2540.9" rx="7.8" ry="8.7" fill="#ff8c00"/>
<ellipse cx="746.6" cy="2527" rx="10.7" ry="17.8" fill="#ffa400"/>
<ellipse cx="743.7" cy="2510.8" rx="5.4" ry="12.7" fill="#ffa400"/>
<ellipse cx="754.9" cy="2504.8" rx="3.7" ry="8.7" fill="#ff8c00"/>
<ellipse cx="792.5" cy="2989" rx="9.7" ry="13" fill="#ffa400"/>
<ellipse cx="912.3" cy="2989" rx="8" ry="11.9" fill="#ff8c00"/>
<polygon points="1036,3024.6 1059.3,3023 1049.3,3041.2 1043.3,3042.2" fill="#ffa400" stroke="#ffa400" stroke-width="4.8" stroke-linejoin="round"/>
<ellipse cx="1105.1" cy="2988" rx="5.3" ry="8" fill="#ff8c00"/>
<polygon points="1104.2,2979.7 1122.4,2979.1 1132.4,2986.4 1131.8,3000.3 1112.5,2999.7 1103.2,2993" fill="#ffa400" stroke="#ffa400" stroke-width="4.8" stroke-linejoin="round"/>
<polygon points="1125.8,3016.3 1152.4,3019.6 1154,3051.2 1139.1,3046.2 1124.1,3041.2" fill="#ffa400" stroke="#ffa400" stroke-width="4.8" stroke-linejoin="round"/>
<ellipse cx="1150.7" cy="3056.2" rx="4" ry="6.3" fill="#ffb400"/>
<polygon points="1171.7,3019.6 1184,3023 1194.9,3019 1196.3,3046.2 1184,3046.9 1172.3,3036.3" fill="#ffa400" stroke="#ffa400" stroke-width="4.8" stroke-linejoin="round"/>
<ellipse cx="1189.6" cy="3096.6" rx="8" ry="11.9" fill="#ffb400"/>
<ellipse cx="1210.6" cy="3098.2" rx="7.3" ry="10.6" fill="#ff8c00"/>
<ellipse cx="1149.7" cy="3111.5" rx="4.6" ry="4" fill="#ff8c00"/>
<ellipse cx="1148.4" cy="3135.8" rx="15" ry="21.7" fill="#ffa400"/>
<ellipse cx="1151.7" cy="3150.5" rx="4.6" ry="4" fill="#ffb400"/>
<polygon points="1820.9,2151.1 1845.2,2151.1 1846.4,2156.6 1822,2157.7" fill="#ff5000" stroke="#ff5000" stroke-width="2.6" stroke-linejoin="round"/>
<ellipse cx="1809.8" cy="2175.4" rx="8.6" ry="6.4" fill="#ffa400"/>
<polygon points="1797.6,2152.2 1822,2151.1 1823.1,2163.3 1817.5,2171 1802,2171 1797.6,2163.3" fill="#ffa400" stroke="#ffa400" stroke-width="4.8" stroke-linejoin="round"/>
<ellipse cx="1904.4" cy="2285.6" rx="8.6" ry="15.3" fill="#ffa400"/>
<ellipse cx="1858.6" cy="2308.5" rx="6.8" ry="7.5" fill="#ffb400"/>
<ellipse cx="1847.5" cy="2337.3" rx="4" ry="5.3" fill="#ffb400"/>
<ellipse cx="1857.4" cy="2337.3" rx="10.2" ry="16.8" fill="#ffa400"/>
<ellipse cx="1950.5" cy="2351.7" rx="8" ry="4.6" fill="#ffb400"/>
<ellipse cx="1939.5" cy="2311.8" rx="4.6" ry="5.7" fill="#ffb400"/>
<ellipse cx="1978.3" cy="2339.5" rx="4.6" ry="4" fill="#ffb400"/>
<polygon points="1966.1,2318.4 1972.7,2307.3 1981.6,2302.9 1989.3,2311.8 1988.2,2325.1 1981.6,2329.5 1979.4,2338.4 1970.5,2336.2" fill="#ff6800" stroke="#ff6800" stroke-width="2.6" stroke-linejoin="round"/>
<polygon points="1941.7,2307.3 1950.5,2298.5 1959.4,2300.7 1963.8,2311.8 1961.6,2322.9 1946.1,2322.9" fill="#ffa400" stroke="#ffa400" stroke-width="4.8" stroke-linejoin="round"/>
<polygon points="1935,2327.3 1946.1,2320.6 1952.8,2322.9 1966.1,2325.1 1970.5,2336.2 1968.3,2347.2 1955,2352.8 1939.5,2349.5 1933.9,2338.4" fill="#ffa400" stroke="#ffa400" stroke-width="4.8" stroke-linejoin="round"/>
<ellipse cx="1848.1" cy="2439.2" rx="4.6" ry="9.1" fill="#ff8c00"/>
<ellipse cx="1857.4" cy="2439.2" rx="10.8" ry="15.3" fill="#ffa400"/>
<ellipse cx="1878.5" cy="2463.2" rx="3.5" ry="3.5" fill="#ffb400"/>
<ellipse cx="1886.3" cy="2463.6" rx="9.1" ry="13" fill="#ffa400"/>
<ellipse cx="1904.4" cy="2476.9" rx="7.5" ry="7.5" fill="#ffa000"/>
<ellipse cx="622.5" cy="3134" rx="15.3" ry="15.3" fill="#ffa400"/>
<ellipse cx="1293" cy="2199.1" rx="11.6" ry="13.7" fill="#ff0000"/>
<ellipse cx="1293" cy="2222.8" rx="16.1" ry="19.6" fill="#ff0000"/>
<ellipse cx="1293.9" cy="2247.9" rx="10.2" ry="13.7" fill="#ff0000"/>
<ellipse cx="1239.8" cy="2223.4" rx="11.1" ry="24.1" fill="#ff0000"/>
<ellipse cx="1349.2" cy="2222.2" rx="8.7" ry="17.3" fill="#ff0000"/>
<ellipse cx="1293.9" cy="2471" rx="13.7" ry="17.6" fill="#ff0000"/>
<polygon points="1023.5,2359.1 1029.5,2359.1 1039.8,2365 1047.2,2370.9 1048.7,2388.7 1041.3,2394.6 1032.4,2391.6 1026.5,2382.8 1023.5,2370.9" fill="#ff0000" stroke="#ff0000" stroke-width="2.6" stroke-linejoin="round"/>
<ellipse cx="1139.5" cy="2350.2" rx="3.2" ry="9.4" fill="#ff4800"/>
<polygon points="1153.7,2359.1 1158.9,2359.1 1166.3,2369.5 1172.2,2376.8 1170.7,2391.6 1163.3,2397.5 1154.4,2388.7" fill="#ff4800" stroke="#ff4800" stroke-width="2.6" stroke-linejoin="round"/>
<polygon points="1172.2,2373.9 1182.5,2366.5 1194.3,2369.5 1201,2376.8 1201,2388.7 1192.9,2394.6 1184,2397.5 1173.6,2393.1" fill="#ff0000" stroke="#ff0000" stroke-width="2.6" stroke-linejoin="round"/>
<polygon points="1278.6,2430 1287.4,2426.3 1290.4,2437.4 1300.7,2440.4 1302.2,2460 1283,2460 1277.8,2447.8" fill="#ff4800" stroke="#ff4800" stroke-width="2.6" stroke-linejoin="round"/>
<polygon points="1055.8,2453.3 1060.2,2456.3 1063.2,2466.6 1061.7,2484.3 1055.8,2490.2 1058.8,2502.1 1055.8,2513.9 1046.9,2519.8 1044,2528.7 1032.2,2528.7 1030.7,2519.8 1024.8,2512.4 1024,2494.7 1032.2,2487.3 1039.6,2469.6 1041,2459.2" fill="#ff0000" stroke="#ff0000" stroke-width="2.6" stroke-linejoin="round"/>
<polygon points="1072.1,2458.5 1076.5,2459.2 1079.5,2466.6 1089.8,2463.6 1094.2,2465.1 1095.7,2484.3 1095,2510.9 1089.8,2513.9 1079.5,2512.4 1076.5,2499.1 1073.5,2476.9" fill="#ff4800" stroke="#ff4800" stroke-width="2.6" stroke-linejoin="round"/>
<polygon points="1101.6,2475.5 1106.1,2475.5 1116.4,2488.8 1122.3,2496.2 1135.6,2497.6 1143,2502.1 1148.9,2510.9 1151.9,2522.8 1159.3,2534.6 1165.2,2546.4 1165.2,2558.2 1160.7,2568.6 1155.6,2568.6 1151.9,2555.3 1147.4,2543.4 1143,2531.6 1138.6,2522.8 1128.2,2519.8 1119.4,2519.8 1113.4,2525.7 1107.5,2527.2 1104.6,2519.8 1101.6,2510.9 1100.1,2491.7" fill="#ff0000" stroke="#ff0000" stroke-width="2.6" stroke-linejoin="round"/>
<polygon points="1113.4,2531.6 1122.3,2525.7 1137.1,2525.7 1143,2534.6 1147.4,2543.4 1140,2546.4 1132.7,2547.9 1126.7,2550.8 1122.3,2543.4 1116.4,2539" fill="#ff4800" stroke="#ff4800" stroke-width="2.6" stroke-linejoin="round"/>
<ellipse cx="1141.5" cy="2491" rx="11.6" ry="10.5" fill="#ff4800"/>
<polygon points="1185.9,2496.2 1196.2,2491.7 1208,2493.2 1212.5,2502.1 1214.7,2516.8 1211,2524.2 1200.6,2524.2 1191.8,2519.8 1184.4,2510.9" fill="#ff0000" stroke="#ff0000" stroke-width="2.6" stroke-linejoin="round"/>
<polygon points="1169.6,2552.3 1179.9,2543.4 1193.2,2540.5 1194.7,2555.3 1193.2,2568.6 1184.4,2571.5 1172.6,2570 1166.6,2562.7" fill="#ff0000" stroke="#ff0000" stroke-width="2.6" stroke-linejoin="round"/>
<polygon points="1202.1,2549.4 1211,2546.4 1216.9,2555.3 1215.4,2565.6 1206.5,2567.1 1202.1,2561.2" fill="#ff0000" stroke="#ff0000" stroke-width="2.6" stroke-linejoin="round"/>
<polygon points="985,2570.3 996.8,2579.2 1000.5,2589.6 998.3,2601.4 989.5,2611.7 982.1,2613.2 976.2,2604.3 974.7,2589.6 977.6,2576.3" fill="#ff0000" stroke="#ff0000" stroke-width="2.6" stroke-linejoin="round"/>
<polygon points="1007.2,2592.5 1016.1,2586.6 1026.4,2588.1 1027.9,2596.9 1023.4,2605.8 1023.4,2614.7 1022,2625 1014.6,2629.5 1007.2,2625 1006.4,2614.7 1010.1,2608.8 1007.2,2601.4" fill="#ff0000" stroke="#ff0000" stroke-width="2.6" stroke-linejoin="round"/>
<polygon points="1023.4,2625 1032.3,2617.6 1041.2,2617.6 1047.1,2625 1050,2636.8 1047.1,2648.7 1038.2,2654.6 1029.4,2651.6 1022,2642.8 1020.5,2630.9" fill="#ff0000" stroke="#ff0000" stroke-width="2.6" stroke-linejoin="round"/>
<ellipse cx="1067.8" cy="2564.4" rx="10.2" ry="7.9" fill="#ff4800"/>
<ellipse cx="1146.1" cy="2630.6" rx="10.5" ry="19.8" fill="#ff0000"/>
<polygon points="1219.8,2604.3 1228.7,2599.9 1230.1,2608.8 1240.5,2607.3 1246.4,2619.1 1248.6,2626.5 1243.4,2636.8 1228.7,2636.8 1219.8,2629.5 1213.9,2623.5 1213.9,2613.2" fill="#ff0000" stroke="#ff0000" stroke-width="2.6" stroke-linejoin="round"/>
<polygon points="1261.2,2607.3 1281.9,2607.3 1290,2614.7 1290,2629.5 1281.9,2633.1 1270,2630.9 1260.4,2626.5" fill="#ff4800" stroke="#ff4800" stroke-width="2.6" stroke-linejoin="round"/>
<ellipse cx="1276" cy="2619.8" rx="9.4" ry="8.7" fill="#ff0000"/>
<polygon points="1023.5,2707.3 1039.8,2705.8 1047.9,2711.7 1048.7,2730.9 1042.8,2738.3 1026.5,2739.8 1022.8,2730.9" fill="#ff0000" stroke="#ff0000" stroke-width="2.6" stroke-linejoin="round"/>
<ellipse cx="1115.2" cy="2723.5" rx="9.9" ry="11.3" fill="#ff0000"/>
<ellipse cx="628.4" cy="2561" rx="12.5" ry="11.9" fill="#ff0000"/>
<ellipse cx="746.6" cy="2527" rx="9.6" ry="16.7" fill="#ff4800"/>
<ellipse cx="743.7" cy="2510.8" rx="4.3" ry="11.6" fill="#ff4800"/>
<ellipse cx="792.5" cy="2989" rx="8.6" ry="11.9" fill="#ff4800"/>
<polygon points="1036,3024.6 1059.3,3023 1049.3,3041.2 1043.3,3042.2" fill="#ff4800" stroke="#ff4800" stroke-width="2.6" stroke-linejoin="round"/>
<polygon points="1104.2,2979.7 1122.4,2979.1 1132.4,2986.4 1131.8,3000.3 1112.5,2999.7 1103.2,2993" fill="#ff0000" stroke="#ff0000" stroke-width="2.6" stroke-linejoin="round"/>
<polygon points="1125.8,3016.3 1152.4,3019.6 1154,3051.2 1139.1,3046.2 1124.1,3041.2" fill="#ff0000" stroke="#ff0000" stroke-width="2.6" stroke-linejoin="round"/>
<polygon points="1171.7,3019.6 1184,3023 1194.9,3019 1196.3,3046.2 1184,3046.9 1172.3,3036.3" fill="#ff0000" stroke="#ff0000" stroke-width="2.6" stroke-linejoin="round"/>
<ellipse cx="1148.4" cy="3135.8" rx="13.9" ry="20.6" fill="#ff0000"/>
<ellipse cx="1809.8" cy="2175.4" rx="7.5" ry="5.3" fill="#ff4800"/>
<polygon points="1797.6,2152.2 1822,2151.1 1823.1,2163.3 1817.5,2171 1802,2171 1797.6,2163.3" fill="#ff0000" stroke="#ff0000" stroke-width="2.6" stroke-linejoin="round"/>
<ellipse cx="1904.4" cy="2285.6" rx="7.5" ry="14.2" fill="#ff4800"/>
<ellipse cx="1857.4" cy="2337.3" rx="9.1" ry="15.7" fill="#ff4800"/>
<polygon points="1941.7,2307.3 1950.5,2298.5 1959.4,2300.7 1963.8,2311.8 1961.6,2322.9 1946.1,2322.9" fill="#ff4800" stroke="#ff4800" stroke-width="2.6" stroke-linejoin="round"/>
<polygon points="1935,2327.3 1946.1,2320.6 1952.8,2322.9 1966.1,2325.1 1970.5,2336.2 1968.3,2347.2 1955,2352.8 1939.5,2349.5 1933.9,2338.4" fill="#ff0000" stroke="#ff0000" stroke-width="2.6" stroke-linejoin="round"/>
<ellipse cx="1857.4" cy="2439.2" rx="9.7" ry="14.2" fill="#ff0000"/>
<ellipse cx="1886.3" cy="2463.6" rx="8" ry="11.9" fill="#ff4800"/>
<ellipse cx="622.5" cy="3134" rx="14.2" ry="14.2" fill="#ff4800"/>
<ellipse cx="1293" cy="2199.1" rx="6.1" ry="8.2" fill="#ec0000"/>
<ellipse cx="1293" cy="2222.8" rx="10.6" ry="14.1" fill="#ec0000"/>
<ellipse cx="1293.9" cy="2247.9" rx="4.7" ry="8.2" fill="#ec0000"/>
<ellipse cx="1239.8" cy="2223.4" rx="5.6" ry="18.6" fill="#ec0000"/>
<ellipse cx="1349.2" cy="2222.2" rx="3.2" ry="11.8" fill="#ec0000"/>
<ellipse cx="1293.9" cy="2471" rx="8.2" ry="12.1" fill="#ec0000"/>
<ellipse cx="1146.1" cy="2630.6" rx="5" ry="14.3" fill="#ec0000"/>
<ellipse cx="1276" cy="2619.8" rx="3.9" ry="3.2" fill="#ec0000"/>
<ellipse cx="1115.2" cy="2723.5" rx="4.4" ry="5.8" fill="#ec0000"/>
<ellipse cx="628.4" cy="2561" rx="7" ry="6.4" fill="#ec0000"/>
<ellipse cx="1148.4" cy="3135.8" rx="8.4" ry="15.1" fill="#ec0000"/>
<ellipse cx="1857.4" cy="2439.2" rx="4.2" ry="8.7" fill="#ec0000"/>
<ellipse cx="1293" cy="2199.1" rx="2.6" ry="4.7" fill="#d40000"/>
<ellipse cx="1293" cy="2222.8" rx="7.1" ry="10.6" fill="#d40000"/>
<ellipse cx="1293.9" cy="2247.9" rx="1.2" ry="4.7" fill="#d40000"/>
<ellipse cx="1239.8" cy="2223.4" rx="2.1" ry="15.1" fill="#d40000"/>
<ellipse cx="1293.9" cy="2471" rx="4.7" ry="8.6" fill="#d40000"/>
<ellipse cx="1146.1" cy="2630.6" rx="1.5" ry="10.8" fill="#d40000"/>
<ellipse cx="628.4" cy="2561" rx="3.5" ry="2.9" fill="#d40000"/>
<ellipse cx="1148.4" cy="3135.8" rx="4.9" ry="11.6" fill="#d40000"/>
<ellipse cx="1293" cy="2219.8" rx="7.7" ry="10.1" fill="#a80000"/>
<ellipse cx="1293.9" cy="2469.6" rx="5.9" ry="7.1" fill="#cc0000"/>
<ellipse cx="986.5" cy="2589.6" rx="5.6" ry="4.9" fill="#cc0000"/>
<ellipse cx="1147.6" cy="2632.4" rx="3" ry="4.4" fill="#cc0000"/>
<ellipse cx="1147.4" cy="3133.2" rx="6" ry="8.3" fill="#cc0000"/>
<ellipse cx="1809.8" cy="2158.8" rx="7.2" ry="6.3" fill="#cc0000"/>
</g>
<g filter="url(#btr)"><path d="M440.5 345 L446.6 342.8 L453 352.7 L463.3 345 L475.7 344.2 L484 349.1 L503.4 348.6 L511.2 345.8 L522.8 351.4 L528.9 347.5 L539.4 351.1 L547.8 344.4 L557.5 343.1 L563.8 347.8 L569.4 343.6 L576 350.5 L581.8 347.8 L586.8 338.6 L593.5 353.3 L604 353.6 L610.7 341.9 L616.2 347.5 L623.1 336.7 L629.5 304.8 L634.2 282.6 L639.2 327 L644.7 335.3 L651.7 348.6 L662.2 338.6 L669.7 349.1 L678 332.5 L686.3 315.9 L693.2 335.3 L700.2 342.2 L708.5 345.8 L719.6 337.5 L733.4 336.4 L744.5 345 L751.4 329.8 L757 289 L763.3 327.5 L773.6 329.2 L780.5 339.4 L790.2 345 L806.8 343.1 L812.4 349.1 L821.8 365.2 L834.5 347.8 L851.2 332.5 L856.7 307.6 L861.4 303.4 L862.8 304.8 L866.9 321.4 L873.9 332.5 L880.8 324.7 L885.5 323.4 L897.4 333.1 L902.9 329.7 L909.9 335.8 L921 334.7 L930.7 329.7 L938.4 323.6 L945.9 328.3 L950.1 329.2 L958.4 333.3 L966.7 331.1 L973.6 323.4 L979.7 320 L986.1 293.7 L991.6 278.5 L996.3 290.9 L1003.5 322.8 L1011 322.8 L1015.2 320 L1020.2 305.6 L1026.3 310.3 L1030.4 299.3 L1034 277.1 L1037.3 235.5 L1042.9 227.2 L1049.8 232.2 L1054.5 207.3 L1058.9 241.1 L1063.7 277.1 L1067.8 295.1 L1073.4 285.4 L1078.9 249.4 L1084.4 188.4 L1090 186.2 L1096.1 206.4 L1103.8 138.5 L1109.4 69.3 L1113.5 42.9 L1119.1 91.4 L1125.4 138.5 L1137.1 160.7 L1143.2 175.9 L1148.2 83.1 L1155.1 18 L1160.6 133 L1166.2 166.3 L1171.7 257.7 L1177.3 238.3 L1181.4 180.1 L1184.2 140.8 L1189.7 155.2 L1196.7 188.4 L1203 243.8 L1207.7 252.7 L1213.3 254.4 L1218.8 272.9 L1225.2 279.9 L1231.3 271.5 L1236.8 288.2 L1242.4 306.2 L1247.9 312.3 L1254.8 315.9 L1263.2 321.4 L1268.7 317.3 L1277 293.7 L1281.2 290.4 L1289.5 286.8 L1292.3 243.8 L1295 196.7 L1299.2 263.2 L1302.2 290.8 L1305.5 324.1 L1311.1 331 L1318 332.4 L1324.9 327.4 L1330.5 329.6 L1336 325.5 L1342.9 331 L1348.5 329.1 L1355.4 324.6 L1360.4 326.3 L1365.9 336.6 L1371.5 332.4 L1377.6 337.9 L1383.1 333.8 L1388.1 332.4 L1395.6 344 L1406.7 336.6 L1413.6 337.4 L1424.7 340.7 L1441.3 335.2 L1449.6 334.3 L1459.3 336 L1466.3 332.4 L1475.9 328.2 L1488.4 335.7 L1499.5 331.8 L1507.8 326 L1516.1 326 L1527.2 337.9 L1535.5 331 L1541.1 331 L1549.4 337.4 L1557.7 335.2 L1563.8 328.8 L1570.2 335.2 L1577.1 331.6 L1589.6 337.4 L1599.3 324.1 L1604.8 322.7 L1616.7 312.4 L1629.7 324.1 L1643.6 318.5 L1657.4 309.7 L1665.8 315.8 L1676.8 321.3 L1690.7 329.6 L1705.1 338.8 L1721.2 331.8 L1729.5 318.5 L1740 306.1 L1746.3 316.6 L1752.6 319.8 L1757.3 316.6 L1765.1 325.1 L1776.1 332.3 L1787.1 333.3 L1798.1 332.3 L1800.3 311.9 L1804.4 305 L1810.7 311.9 L1816 328.6 L1823.2 329.2 L1831.1 326 L1840.5 322.9 L1849.9 323.8 L1857.8 333.3 L1864.1 333.9 L1872.5 328.6 L1881.3 333.9 L1890.8 326 L1897 325.1 L1909.6 336.1 L1915.9 333.3 L1925.3 333.9 L1933.2 326 L1941 311.9 L1948.9 302.5 L1956.7 286.8 L1961.4 258.5 L1965.5 230.3 L1968.6 227.1 L1972.4 274.2 L1977.1 293.1 L1986.5 315.1 L1992.8 324.5 L1999.1 338.6 L2005.4 344.9 L2014.8 345.5 L2021.1 352.1 L2027.4 348 L2032.1 349.6 L2041.5 345.8 L2050.9 348 L2058.8 351.8 L2068.2 348 L2077.6 345.5 L2085.5 346.5 L2091.8 343.9 L2098 345.5 L2104.3 343.3 L2113.7 345.5 L2121.6 348.7 L2131 345.5 L2140.4 344.9 L2148.3 349 L2156.1 352.1 L2165.6 348.7 L2171.8 350.5 L2179.7 348 L2195.4 348 L2204.8 344.9 L2214.2 343.3 L2222.1 346.5 L2228.4 344.9 L2234.7 342.4" fill="none" stroke="#141414" stroke-width="1.9" stroke-linejoin="round" stroke-linecap="round"/></g>
<g filter="url(#btr)"><path d="M372.2 401.7 C371.1 403.1 364.9 406.8 365.7 409.9 C366.5 413 373.2 416.7 376.9 420.4 C380.7 424.1 388.2 427.8 388.2 432.1 C388.2 436.4 383.1 441.9 376.9 446.2 C370.8 450.4 362.5 454.7 351.2 457.9 C339.9 461 321.1 462.5 309.1 464.9 C297.1 467.3 279.1 469.8 279.1 472.4 C279.1 474.9 296.3 477.8 309.1 480.1 C321.9 482.3 344.1 483.8 355.9 485.9 C367.6 488.1 378 489.4 379.7 492.9 C381.5 496.5 366.9 502.9 366.4 507 C365.9 511.1 373.2 514 376.9 517.5 C380.6 521 388.4 523.2 388.6 528 C388.8 532.9 381.2 540.7 378.1 546.8 C375 552.8 375.6 559.6 369.9 564.3 C364.2 569 358.2 571.5 344.2 574.8 C330.1 578.2 305.2 581.7 285.7 584.2 C266.2 586.7 243.8 587.7 227.2 590 C210.6 592.4 189.4 595.5 186.2 598.2 C183.1 601 198.6 603.8 208.5 606.4 C218.3 609.1 246.2 612 245.4 614.1 C244.6 616.3 222.4 617.7 203.8 619.3 C185.1 620.9 155.8 622.3 133.6 623.5 C111.4 624.7 83.1 625 70.4 626.3 C57.7 627.6 50.9 629.9 57.5 631.5 C64.2 633 87.8 633.8 110.2 635.7 C132.6 637.5 162.8 640.5 192.1 642.7 C221.3 644.8 260.3 646 285.7 648.5 C311 651.1 329.7 654.7 344.2 657.9 C358.6 661.1 370.3 663.9 372.2 668 C374.2 672.1 359.4 677.7 355.9 682.5 C352.4 687.2 354.6 691.2 351.2 696.5 C347.8 701.8 334.3 708.7 335.3 714.1 C336.2 719.4 357.5 725.1 357 728.8 C356.6 732.5 350.2 734.1 332.5 736.3 C314.7 738.5 275.9 740.2 250.6 742.1 C225.2 744.1 196.4 746 180.4 748 C164.4 750 153.9 752.2 154.6 754 C155.4 755.9 169.1 757.7 185.1 759.2 C201.1 760.7 231.9 761.4 250.6 762.9 C269.3 764.4 285.9 766.4 297.4 768.1 C308.9 769.7 319.6 770.8 319.6 772.8 C319.6 774.7 306.9 777.4 297.4 779.8 C287.8 782.1 268.7 784.1 262.3 786.8 C255.8 789.5 260.9 793 258.8 796.2 C256.6 799.3 246.9 802.6 249.4 805.5 C251.9 808.4 264 811.4 274 813.7 C283.9 816 300.8 817.5 309.1 819.6 C317.3 821.6 324.4 824 323.6 826.1 C322.8 828.2 309.2 830.4 304.4 832.4 C299.6 834.4 291.8 835.9 294.6 838.3 C297.3 840.6 311.3 843.6 320.8 846.5 C330.2 849.3 349.2 852.4 351.2 855.1 C353.1 857.8 341 860.4 332.5 862.8 C323.9 865.3 305.8 867.7 299.7 869.9 C293.7 872 292.7 873.2 296.2 875.7 C299.7 878.2 308.9 881.7 320.8 884.6 C332.7 887.5 356.3 890.4 367.6 893.3 C378.8 896.1 385.6 897.3 388.2 901.4 C390.7 905.5 384.3 912.7 382.8 917.8 C381.3 922.9 379.8 927 379.3 931.9 C378.8 936.7 382.5 943 379.7 947.1 C377 951.2 371.2 952.9 362.9 956.4 C354.5 959.9 330.8 964.6 329.7 968.1 C328.5 971.6 346.4 974.8 355.9 977.5 C365.3 980.2 380 982.4 386.3 984.5 C392.5 986.6 393.6 987.8 393.3 990.4 C393 992.9 385.6 995.8 384.4 999.7 C383.2 1003.6 385 1009.1 386.3 1013.7 C387.6 1018.4 392.3 1022.3 392.1 1027.8 C391.9 1033.2 385.3 1040.7 385.1 1046.5 C384.9 1052.4 389.2 1057.8 391 1062.9 C392.7 1068 395.8 1072.2 395.6 1076.9 C395.4 1081.6 390.2 1086.7 389.8 1091 C389.4 1095.2 392 1099.8 393.3 1102.7 C394.6 1105.5 397.4 1104.7 397.3 1108 C397.2 1111.3 394.9 1117.8 392.8 1122.4 C390.7 1127.1 384.1 1131.6 384.7 1135.9 C385.3 1140.3 396.9 1145.5 396.4 1148.5 C396 1151.5 390.4 1152.1 382 1153.9 C373.6 1155.7 358.9 1157.2 346 1159.3 C333.1 1161.4 306.1 1164.1 304.6 1166.5 C303.1 1168.9 324.1 1171.5 337 1173.7 C349.9 1176 372.3 1177.2 382 1180 C391.8 1182.9 393 1187.2 395.5 1190.8 C398.1 1194.4 397.8 1197.1 397.3 1201.6 C396.9 1206.1 396.9 1213.8 392.8 1217.8 C388.8 1221.9 381.3 1222.9 373 1225.9 C364.8 1228.9 343.3 1232.4 343.3 1235.8 C343.3 1239.3 364.3 1242.9 373 1246.6 C381.7 1250.4 394.9 1254.9 395.5 1258.3 C396.1 1261.8 383.8 1264.2 376.6 1267.3 C369.4 1270.5 352.9 1274.1 352.3 1277.2 C351.7 1280.4 366.9 1282.9 373 1286.2 C379.2 1289.5 385.5 1292.5 389.2 1297 C393 1301.5 394 1306.9 395.5 1313.2 C397 1319.5 399 1329.4 398.2 1334.8 C397.5 1340.2 393.6 1341.7 391 1345.6 C388.4 1349.5 382.3 1354 382.6 1358.2 C382.9 1362.4 390.1 1366.6 392.8 1370.8 C395.5 1375 398.6 1378.6 398.6 1383.4 C398.6 1388.2 393.8 1394.2 392.8 1399.6 C391.9 1405 393.5 1410.4 392.8 1415.8 C392.2 1421.2 388.1 1427.1 388.9 1432 C389.6 1437 394.7 1441.3 397.3 1445.5 C399.9 1449.7 404.8 1452.6 404.5 1457.2 C404.2 1461.9 398.7 1467.9 395.5 1473.4 C392.4 1479 387.3 1487.7 385.6 1490.5" fill="none" stroke="#141414" stroke-width="1.9" stroke-linejoin="round" stroke-linecap="round"/></g>
<g filter="url(#btr)"><path d="M432.9 2087.2 L441.6 2087.8 L452.3 2083.2 L464.6 2091.8 L472.3 2086.9 L481.6 2090.3 L489.3 2087.2 L506.2 2088.7 L517.9 2083.8 L527.8 2088.4 L540.1 2090.9 L547.8 2086.6 L555.5 2090.9 L565.3 2087.8 L572.4 2093.3 L587.8 2090.9 L595.5 2083.5 L601.7 2086.3 L612.4 2083.8 L621.7 2075.5 L630.9 2064.1 L636.4 2083.2 L644.8 2088.4 L654 2089.3 L660.1 2093 L666.3 2086.3 L671.8 2077 L681.7 2083.8 L689.4 2083.8 L697.1 2090.9 L707.9 2091.5 L717.1 2094.6 L726.3 2089.3 L734 2089.3 L742.7 2077 L749.4 2083.8 L755.6 2079.5 L766.4 2088.4 L772.5 2086.3 L778.7 2090.3 L786.4 2084.7 L797.2 2069.3 L803.3 2023.2 L808.5 1989.9 L814.1 2029.3 L820.2 2066.3 L825.8 2083.8 L831.9 2082.3 L840.3 2089.3 L846.4 2088.4 L854.7 2084.7 L861.8 2089.3 L869.5 2088.4 L875.7 2085.3 L886.4 2085.3 L898.8 2092.4 L909.2 2082.7 L913.9 2083.3 L920.9 2089.4 L927.7 2084.2 L932.3 2084.2 L938.5 2080.2 L946.2 2086.4 L952.3 2088.8 L963.1 2080.8 L969.3 2080.2 L973.9 2081.1 L979.4 2044.8 L985.6 2030.9 L990.8 2041.7 L997 2072.5 L1003.1 2080.2 L1009.3 2079.6 L1015.5 2067 L1021.6 2067.9 L1026.8 2057.1 L1032.4 2017.1 L1039.2 1987.8 L1044.7 2014 L1050.9 2041.7 L1056.4 2060.2 L1067.8 2071 L1078.6 2058.7 L1081.7 2058.7 L1086.3 2063.9 L1091.5 2054.7 L1097.7 2063.3 L1103.2 2035.6 L1110.9 2042.6 L1115.5 2037.1 L1121.7 2037.1 L1127.2 2039.6 L1132.5 2021.7 L1138.6 1992.5 L1143.2 1937 L1146.3 1918.6 L1150.9 1961.7 L1157.1 2023.3 L1163.2 2051 L1169.4 2062.7 L1175.6 2040.2 L1180.8 2014 L1186.3 1998.6 L1192.5 2017.1 L1198 2044.8 L1204.2 2049.4 L1211 2064.8 L1217.1 2072.5 L1227.9 2061.7 L1232.5 2061.7 L1239.6 2053.4 L1244.8 2066.4 L1251 2082.7 L1256.5 2083.3 L1261.8 2071 L1267.9 2065.7 L1275.6 2055.6 L1281.8 2040.2 L1284.9 1961.7 L1288.5 1863.2 L1292.5 1760.9 L1297.2 1863.2 L1300.9 1974 L1303.9 2071 L1309.5 2075.6 L1318.7 2074.1 L1323.3 2076.2 L1328 2081.1 L1334.1 2081.1 L1339.7 2084.2 L1344.9 2069.4 L1351 2070 L1357.2 2089.4 L1363.4 2091.9 L1374.1 2086.4 L1387.7 2093 L1393.9 2090.9 L1399.1 2092.4 L1405.2 2087.2 L1412.3 2092.4 L1429.3 2087.8 L1435.4 2088.4 L1443.1 2093 L1453.9 2083.8 L1463.1 2078 L1470.8 2087.8 L1477 2089.3 L1487.8 2083.8 L1498.5 2086.3 L1505.6 2069.3 L1512.4 2078 L1518.5 2083.2 L1524.7 2080.7 L1533.9 2080.7 L1543.2 2090.3 L1554 2087.8 L1574 2087.8 L1577 2086.3 L1583.2 2091.5 L1589.4 2087.8 L1600.1 2091.8 L1606.3 2087.8 L1612.5 2075.5 L1617.7 2074.9 L1624.8 2084.7 L1634 2086.3 L1643.2 2093 L1650.9 2090.9 L1660.2 2081.7 L1666.3 2078 L1672.5 2080.1 L1683.3 2086.3 L1691 2085.3 L1695.6 2086.3 L1700.8 2084.1 L1707.9 2090 L1712.5 2090 L1721.7 2085.3 L1731 2084.1 L1740.2 2078.6 L1746.4 2078 L1760.2 2081.7 L1766.4 2087.8 L1772.5 2085.7 L1778.7 2086.9 L1789.5 2081.7 L1795.6 2083.2 L1800.3 2069.3 L1806.4 2043.2 L1812.6 2041.6 L1816.6 2060.1 L1819.7 2074.9 L1826.4 2078.6 L1838.7 2083.8 L1846.4 2081.7 L1854.1 2069.3 L1858.8 2069.3 L1860 2069.1 L1866.9 2089.3 L1872.3 2081.4 L1877.7 2077.7 L1885.9 2082.6 L1894.5 2083.1 L1901.9 2075.2 L1906.8 2075.2 L1914.2 2080.1 L1920.3 2080.9 L1930.9 2087.5 L1938.3 2061.7 L1943.7 2014.9 L1949.9 2000.1 L1954.8 1968.1 L1961.5 1948.4 L1965.9 1921.3 L1969.6 1889.3 L1972.8 1869.1 L1975.8 1894.2 L1979.5 1950.8 L1981.9 2012.4 L1984.4 2044.4 L1990.5 2058 L1996.7 2062.9 L2001.6 2071.5 L2007.8 2091.2 L2020.1 2087.5 L2027.5 2086.3 L2037.3 2087 L2043.5 2085.1 L2049.7 2088.8 L2059.5 2087 L2068.1 2087.5 L2073.1 2085.6 L2079.2 2088 L2091.5 2087.5 L2102.6 2088.8 L2108.8 2092.5 L2119.9 2090.7 L2127.2 2085.6 L2135.9 2087 L2146.9 2090.7 L2156.8 2088 L2166.7 2088.8 L2174 2092.5 L2182.7 2089.3 L2191.3 2087.5 L2198.7 2089.3 L2209.8 2082.6 L2220.8 2090.7 L2228.2 2089.3 L2238.8 2092.5 L2246.2 2089.3" fill="none" stroke="#141414" stroke-width="1.9" stroke-linejoin="round" stroke-linecap="round"/></g>
<g filter="url(#btr)"><path d="M363.4 2146.8 C358.1 2147.9 338.2 2151.3 331.8 2153.4 C325.5 2155.5 322.9 2157.5 325.3 2159.2 C327.6 2161 338.1 2162.2 345.9 2163.9 C353.6 2165.6 366.3 2167.7 371.6 2169.3 C376.9 2170.9 377.1 2170.1 377.4 2173.3 C377.8 2176.5 376.3 2183.8 373.9 2188.5 C371.6 2193.2 370 2198.3 363.4 2201.4 C356.8 2204.4 354.6 2205.1 334.2 2206.7 C313.7 2208.4 275.7 2210 240.6 2211.4 C205.5 2212.9 156 2214 123.6 2215.4 C91.1 2216.8 45.9 2218.3 45.9 2220.1 C45.9 2221.8 91.1 2224.2 123.6 2225.9 C156 2227.7 205.5 2229.2 240.6 2230.6 C275.7 2232 313.5 2232.9 334.2 2234.1 C354.8 2235.3 358.8 2236.3 364.6 2237.6 C370.4 2239 368.2 2239.6 368.8 2242.3 C369.4 2245 366.5 2250.1 368.1 2254 C369.7 2257.9 375.9 2262.2 378.6 2265.7 C381.3 2269.2 384.9 2270.8 384.5 2275.1 C384.1 2279.4 379.2 2286.6 376.3 2291.4 C373.4 2296.3 370.2 2300.6 366.9 2304.3 C363.6 2308 359.5 2310.7 356.4 2313.7 C353.3 2316.6 352.7 2319.5 348.2 2321.9 C343.7 2324.2 337.1 2325.4 329.5 2327.7 C321.9 2330 304.1 2333.1 302.6 2335.4 C301 2337.8 314.9 2339.6 320.1 2341.7 C325.3 2343.9 331.7 2345.9 333.7 2348.1 C335.6 2350.2 330.8 2352 331.8 2354.6 C332.9 2357.2 341.2 2360.6 340 2363.5 C338.8 2366.4 331.2 2369.2 324.8 2372.2 C318.4 2375.2 302.3 2378.8 301.9 2381.5 C301.5 2384.3 313.2 2386.4 322.5 2388.5 C331.7 2390.7 348.6 2391.5 357.6 2394.4 C366.5 2397.3 374.5 2401 376.3 2406.1 C378 2411.2 371.8 2419.7 368.1 2424.8 C364.4 2429.9 356.2 2433 354.1 2436.5 C351.9 2440 354.1 2443.2 355.2 2445.9 C356.4 2448.5 364.6 2450.3 361.1 2452.4 C357.6 2454.6 350.3 2456.9 334.2 2458.7 C318 2460.6 283.3 2461.5 264 2463.4 C244.7 2465.4 218.3 2468.3 218.3 2470.4 C218.3 2472.6 248.6 2474.5 264 2476.3 C279.4 2478 299.5 2479.1 310.8 2481 C322.1 2482.8 331.8 2484.9 331.8 2487.3 C331.8 2489.6 316.2 2493 310.8 2495 C305.3 2497 307.6 2497 299.1 2499.4 C290.5 2501.7 261.2 2506.5 259.3 2509.2 C257.3 2511.9 274.9 2513.3 287.4 2515.7 C299.8 2518.2 327.8 2521.1 334.2 2523.9 C340.5 2526.7 325.4 2529.9 325.3 2532.6 C325.2 2535.3 335.7 2537.3 333.7 2540.3 C331.7 2543.3 318.7 2547.2 313.1 2550.4 C307.5 2553.5 298.7 2556.4 300.2 2559 C301.8 2561.6 312.9 2563.3 322.5 2566 C332 2568.8 353.7 2573.1 357.6 2575.4 C361.5 2577.7 358.7 2578.3 345.9 2580.1 C333 2581.8 293.1 2583.9 280.4 2585.9 C267.6 2588 264.1 2590.4 269.1 2592.2 C274.2 2594.1 299.5 2595.9 310.8 2597.2 C322 2598.4 330.1 2598.1 336.5 2600 C342.9 2601.8 351.7 2605.4 349.4 2608.2 C347 2610.9 333.6 2613.2 322.5 2616.3 C311.4 2619.5 292.4 2624.1 282.7 2626.9 C272.9 2629.6 263.2 2630.6 264 2632.7 C264.8 2634.9 273.7 2637.5 287.4 2639.7 C301 2642 330.3 2644 345.9 2646.3 C361.5 2648.6 374.5 2650.8 381 2653.8 C387.4 2656.8 384.5 2660.4 384.5 2664.3 C384.4 2668.2 380 2672.3 380.5 2677.2 C381 2682.1 387.4 2688.9 387.5 2693.6 C387.6 2698.2 386.7 2701.9 381 2705.3 C375.2 2708.6 360 2710.5 352.9 2713.4 C345.8 2716.4 337.6 2719.5 338.4 2722.8 C339.2 2726.1 350.5 2730.2 357.6 2733.3 C364.7 2736.5 376.3 2739.2 381 2741.5 C385.6 2743.9 386.5 2744.1 385.6 2747.4 C384.8 2750.7 376.6 2756.3 375.8 2761.4 C375 2766.5 378.7 2771.7 381 2777.8 C383.2 2783.8 388.8 2792.6 389.1 2797.7 C389.5 2802.7 383.2 2803.7 382.8 2808.2 C382.4 2812.7 385.8 2819.5 386.8 2824.6 C387.9 2829.7 388.1 2834.7 389.1 2838.6 C390.2 2842.5 393.2 2844.4 393.1 2848 C393 2851.5 389.5 2856.9 388.6 2859.9 C387.6 2862.9 386.9 2862.2 387.3 2866.2 C387.7 2870.3 392.3 2877.9 390.9 2884.2 C389.6 2890.5 379.9 2898.6 379.2 2904 C378.5 2909.4 386.3 2912.4 386.8 2916.6 C387.2 2920.8 382 2924.7 381.9 2929.2 C381.9 2933.7 386.4 2938.8 386.4 2943.6 C386.4 2948.4 382.1 2953.8 381.9 2958 C381.8 2962.2 387.2 2965.7 385.5 2968.8 C383.9 2972 379.9 2973.3 372 2976.9 C364.1 2980.5 340.3 2987.1 338.2 2990.4 C336.1 2993.7 352.9 2994.3 359.4 2996.7 C366 2999.1 375.3 3002 377.4 3004.8 C379.5 3007.7 378.9 3011.1 372 3013.8 C365.1 3016.5 356.4 3017.9 336 3021 C315.6 3024.2 252.6 3029.7 249.6 3032.7 C246.6 3035.7 297.6 3036.8 318 3039 C338.4 3041.3 361.5 3043.2 372 3046.2 C382.5 3049.2 378 3051 381 3057 C384 3063 389.4 3075 390 3082.2 C390.6 3089.4 386.6 3095.4 384.6 3100.2 C382.7 3105 379.8 3107.7 378.3 3111 C376.8 3114.3 382.7 3117.3 375.6 3120 C368.6 3122.7 351.9 3124.6 336 3127.2 C320.1 3129.9 280.2 3133.3 280.2 3135.9 C280.2 3138.4 321.3 3140.7 336 3142.5 C350.7 3144.4 361.7 3144.2 368.4 3147 C375.2 3149.9 374.1 3154.5 376.5 3159.6 C378.9 3164.7 381.3 3172.8 382.8 3177.6 C384.3 3182.4 385.8 3184.5 385.5 3188.4 C385.2 3192.3 380.9 3197.1 381 3201 C381.1 3204.9 386.1 3207.9 386.1 3211.8 C386.1 3215.7 380.4 3219.6 381 3224.4 C381.7 3229.2 387.6 3236.6 390 3240.6 C392.4 3244.7 394.5 3247.4 395.4 3248.7" fill="none" stroke="#141414" stroke-width="1.9" stroke-linejoin="round" stroke-linecap="round"/></g>
<g>
<g stroke="#7a7a7a" stroke-width="3.4" fill="none" filter="url(#bth)">
<path d="M438.3 1501.5 H2236.7"/>
<path d="M440 1501.5 v13.5M514.8 1501.5 v7.5M589.6 1501.5 v13.5M664.4 1501.5 v7.5M739.2 1501.5 v13.5M814 1501.5 v7.5M888.8 1501.5 v13.5M963.5 1501.5 v7.5M1038.3 1501.5 v13.5M1113.1 1501.5 v7.5M1187.9 1501.5 v13.5M1262.7 1501.5 v7.5M1337.5 1501.5 v13.5M1412.3 1501.5 v7.5M1487.1 1501.5 v13.5M1561.9 1501.5 v7.5M1636.7 1501.5 v13.5M1711.5 1501.5 v7.5M1786.2 1501.5 v13.5M1861 1501.5 v7.5M1935.8 1501.5 v13.5M2010.6 1501.5 v7.5M2085.4 1501.5 v13.5M2160.2 1501.5 v7.5M2235 1501.5 v13.5" stroke-width="2.4"/>
</g><g stroke="#7a7a7a" stroke-width="3.4" fill="none" filter="url(#btv)">
<path d="M2246 400 V1492.7"/>
<path d="M2246 401.7 h12M2246 447.1 h5.5M2246 492.5 h12M2246 537.9 h5.5M2246 583.2 h12M2246 628.6 h5.5M2246 674 h12M2246 719.4 h5.5M2246 764.8 h12M2246 810.2 h5.5M2246 855.6 h12M2246 901 h5.5M2246 946.3 h12M2246 991.7 h5.5M2246 1037.1 h12M2246 1082.5 h5.5M2246 1127.9 h12M2246 1173.3 h5.5M2246 1218.7 h12M2246 1264.1 h5.5M2246 1309.4 h12M2246 1354.8 h5.5M2246 1400.2 h12M2246 1445.6 h5.5M2246 1491 h12" stroke-width="2.4"/>
</g>
<text x="440" y="1585.1" font-size="61" text-anchor="middle" letter-spacing="0.6">6.0</text>
<text x="589.6" y="1585.1" font-size="61" text-anchor="middle" letter-spacing="0.6">5.5</text>
<text x="739.2" y="1585.1" font-size="61" text-anchor="middle" letter-spacing="0.6">5.0</text>
<text x="888.8" y="1585.1" font-size="61" text-anchor="middle" letter-spacing="0.6">4.5</text>
<text x="1038.3" y="1585.1" font-size="61" text-anchor="middle" letter-spacing="0.6">4.0</text>
<text x="1187.9" y="1585.1" font-size="61" text-anchor="middle" letter-spacing="0.6">3.5</text>
<text x="1337.5" y="1585.1" font-size="61" text-anchor="middle" letter-spacing="0.6">3.0</text>
<text x="1487.1" y="1585.1" font-size="61" text-anchor="middle" letter-spacing="0.6">2.5</text>
<text x="1636.7" y="1585.1" font-size="61" text-anchor="middle" letter-spacing="0.6">2.0</text>
<text x="1786.2" y="1585.1" font-size="61" text-anchor="middle" letter-spacing="0.6">1.5</text>
<text x="1935.8" y="1585.1" font-size="61" text-anchor="middle" letter-spacing="0.6">1.0</text>
<text x="2085.4" y="1585.1" font-size="61" text-anchor="middle" letter-spacing="0.6">0.5</text>
<text x="2235" y="1585.1" font-size="61" text-anchor="middle" letter-spacing="0.6">0.0</text>
<text x="2261" y="421.7" font-size="60.5" text-anchor="start" letter-spacing="-0.2">50</text>
<text x="2261" y="512.5" font-size="60.5" text-anchor="start" letter-spacing="-0.2">55</text>
<text x="2261" y="603.2" font-size="60.5" text-anchor="start" letter-spacing="-0.2">60</text>
<text x="2261" y="694" font-size="60.5" text-anchor="start" letter-spacing="-0.2">65</text>
<text x="2261" y="784.8" font-size="60.5" text-anchor="start" letter-spacing="-0.2">70</text>
<text x="2261" y="875.6" font-size="60.5" text-anchor="start" letter-spacing="-0.2">75</text>
<text x="2261" y="966.3" font-size="60.5" text-anchor="start" letter-spacing="-0.2">80</text>
<text x="2261" y="1057.1" font-size="60.5" text-anchor="start" letter-spacing="-0.2">85</text>
<text x="2261" y="1147.9" font-size="60.5" text-anchor="start" letter-spacing="-0.2">90</text>
<text x="2261" y="1238.7" font-size="60.5" text-anchor="start" letter-spacing="-0.2">95</text>
<text x="2261" y="1329.4" font-size="60.5" text-anchor="start" letter-spacing="-0.2">100</text>
<text x="2261" y="1420.2" font-size="60.5" text-anchor="start" letter-spacing="-0.2">105</text>
<text x="2261" y="1511" font-size="60.5" text-anchor="start" letter-spacing="-0.2">110</text>
<text x="1337.5" y="1641.5" font-size="59" text-anchor="middle" >f2 (ppm)</text>
<text transform="translate(2400 946.4) rotate(-90)" font-size="59" text-anchor="middle">f1 (ppm)</text>
<g stroke="#6a6a6a" stroke-width="3.4" fill="none" filter="url(#bth)">
<path d="M430.7 3259 H2247.7"/>
<path d="M432.4 3259 v13.5M508 3259 v7.5M583.5 3259 v13.5M659.1 3259 v7.5M734.7 3259 v13.5M810.2 3259 v7.5M885.8 3259 v13.5M961.4 3259 v7.5M1036.9 3259 v13.5M1112.5 3259 v7.5M1188.1 3259 v13.5M1263.6 3259 v7.5M1339.2 3259 v13.5M1414.8 3259 v7.5M1490.3 3259 v13.5M1565.9 3259 v7.5M1641.5 3259 v13.5M1717 3259 v7.5M1792.6 3259 v13.5M1868.2 3259 v7.5M1943.7 3259 v13.5M2019.3 3259 v7.5M2094.9 3259 v13.5M2170.4 3259 v7.5M2246 3259 v13.5" stroke-width="2.4"/>
</g><g stroke="#6a6a6a" stroke-width="3.4" fill="none" filter="url(#btv)">
<path d="M2257.8 2145.3 V3250.2"/>
<path d="M2257.8 2147 h12M2257.8 2192.9 h5.5M2257.8 2238.8 h12M2257.8 2284.7 h5.5M2257.8 2330.6 h12M2257.8 2376.5 h5.5M2257.8 2422.4 h12M2257.8 2468.3 h5.5M2257.8 2514.2 h12M2257.8 2560.1 h5.5M2257.8 2606 h12M2257.8 2651.9 h5.5M2257.8 2697.8 h12M2257.8 2743.6 h5.5M2257.8 2789.5 h12M2257.8 2835.4 h5.5M2257.8 2881.3 h12M2257.8 2927.2 h5.5M2257.8 2973.1 h12M2257.8 3019 h5.5M2257.8 3064.9 h12M2257.8 3110.8 h5.5M2257.8 3156.7 h12M2257.8 3202.6 h5.5M2257.8 3248.5 h12" stroke-width="2.4"/>
</g>
<text x="432.4" y="3342.6" font-size="61.6" text-anchor="middle" letter-spacing="0.6">6.0</text>
<text x="583.5" y="3342.6" font-size="61.6" text-anchor="middle" letter-spacing="0.6">5.5</text>
<text x="734.7" y="3342.6" font-size="61.6" text-anchor="middle" letter-spacing="0.6">5.0</text>
<text x="885.8" y="3342.6" font-size="61.6" text-anchor="middle" letter-spacing="0.6">4.5</text>
<text x="1036.9" y="3342.6" font-size="61.6" text-anchor="middle" letter-spacing="0.6">4.0</text>
<text x="1188.1" y="3342.6" font-size="61.6" text-anchor="middle" letter-spacing="0.6">3.5</text>
<text x="1339.2" y="3342.6" font-size="61.6" text-anchor="middle" letter-spacing="0.6">3.0</text>
<text x="1490.3" y="3342.6" font-size="61.6" text-anchor="middle" letter-spacing="0.6">2.5</text>
<text x="1641.5" y="3342.6" font-size="61.6" text-anchor="middle" letter-spacing="0.6">2.0</text>
<text x="1792.6" y="3342.6" font-size="61.6" text-anchor="middle" letter-spacing="0.6">1.5</text>
<text x="1943.7" y="3342.6" font-size="61.6" text-anchor="middle" letter-spacing="0.6">1.0</text>
<text x="2094.9" y="3342.6" font-size="61.6" text-anchor="middle" letter-spacing="0.6">0.5</text>
<text x="2246" y="3342.6" font-size="61.6" text-anchor="middle" letter-spacing="0.6">0.0</text>
<text x="2273.5" y="2167" font-size="61.1" text-anchor="start" letter-spacing="-0.2">50</text>
<text x="2273.5" y="2258.8" font-size="61.1" text-anchor="start" letter-spacing="-0.2">55</text>
<text x="2273.5" y="2350.6" font-size="61.1" text-anchor="start" letter-spacing="-0.2">60</text>
<text x="2273.5" y="2442.4" font-size="61.1" text-anchor="start" letter-spacing="-0.2">65</text>
<text x="2273.5" y="2534.2" font-size="61.1" text-anchor="start" letter-spacing="-0.2">70</text>
<text x="2273.5" y="2626" font-size="61.1" text-anchor="start" letter-spacing="-0.2">75</text>
<text x="2273.5" y="2717.8" font-size="61.1" text-anchor="start" letter-spacing="-0.2">80</text>
<text x="2273.5" y="2809.5" font-size="61.1" text-anchor="start" letter-spacing="-0.2">85</text>
<text x="2273.5" y="2901.3" font-size="61.1" text-anchor="start" letter-spacing="-0.2">90</text>
<text x="2273.5" y="2993.1" font-size="61.1" text-anchor="start" letter-spacing="-0.2">95</text>
<text x="2273.5" y="3084.9" font-size="61.1" text-anchor="start" letter-spacing="-0.2">100</text>
<text x="2273.5" y="3176.7" font-size="61.1" text-anchor="start" letter-spacing="-0.2">105</text>
<text x="2273.5" y="3268.5" font-size="61.1" text-anchor="start" letter-spacing="-0.2">110</text>
<text x="1339.2" y="3399" font-size="59.6" text-anchor="middle" >f2 (ppm)</text>
<text transform="translate(2413 2697.8) rotate(-90)" font-size="59.6" text-anchor="middle">f1 (ppm)</text>
</g>
<g>
<text x="450" y="2435.4" font-size="53.4" text-anchor="start" fill="#111">A/D (H1/C3)</text>
<text x="490" y="2722" font-size="53.4" text-anchor="start" fill="#111">A/D (H1/C6)</text>
<text x="988.4" y="2930.5" font-size="53.4" text-anchor="start" fill="#111">C/A (C1/H4)</text>
<text x="1285" y="3004.8" font-size="53.4" text-anchor="start" fill="#111">D/E (C1/H6)</text>
<text x="778.2" y="3153.1" font-size="53.4" text-anchor="start" fill="#111">B/D (C1/H6)</text>
<text x="857" y="3231.3" font-size="53.4" text-anchor="start" fill="#111">E/B (C1/H6)</text>
<text x="1282.7" y="3193.7" font-size="53.4" text-anchor="start" fill="#111">B/D (C1/H3)</text>
<path d="M575.2 2455.2 L607.1 2518.1" stroke="#222" stroke-width="2.2" fill="none"/>
<polygon points="615.7,2535 601.5,2517.6 610,2513.2" fill="#111"/>
<path d="M590.9 2670 L623.2 2619.4" stroke="#222" stroke-width="2.2" fill="none"/>
<polygon points="633.4,2603.4 625.6,2624.5 617.5,2619.4" fill="#111"/>
<path d="M1055.9 2944.8 L1045 2996" stroke="#222" stroke-width="2.2" fill="none"/>
<polygon points="1041,3014.6 1040.9,2992.1 1050.3,2994.1" fill="#111"/>
<path d="M1262.1 2985.6 L1173.3 2985.6" stroke="#222" stroke-width="2.2" fill="none"/>
<polygon points="1154.3,2985.6 1176.3,2980.8 1176.3,2990.4" fill="#111"/>
<path d="M1072.2 3112.6 L1147.2 3095.6" stroke="#222" stroke-width="2.2" fill="none"/>
<polygon points="1165.7,3091.4 1145.3,3100.9 1143.2,3091.6" fill="#111"/>
<path d="M1096.5 3183.7 L1115.4 3163.6" stroke="#222" stroke-width="2.2" fill="none"/>
<polygon points="1128.4,3149.8 1116.8,3169.1 1109.8,3162.5" fill="#111"/>
<path d="M1284.7 3141.5 L1238.5 3110.3" stroke="#222" stroke-width="2.2" fill="none"/>
<polygon points="1222.8,3099.7 1243.7,3108 1238.3,3116" fill="#111"/>
</g>
</svg></body></html>
